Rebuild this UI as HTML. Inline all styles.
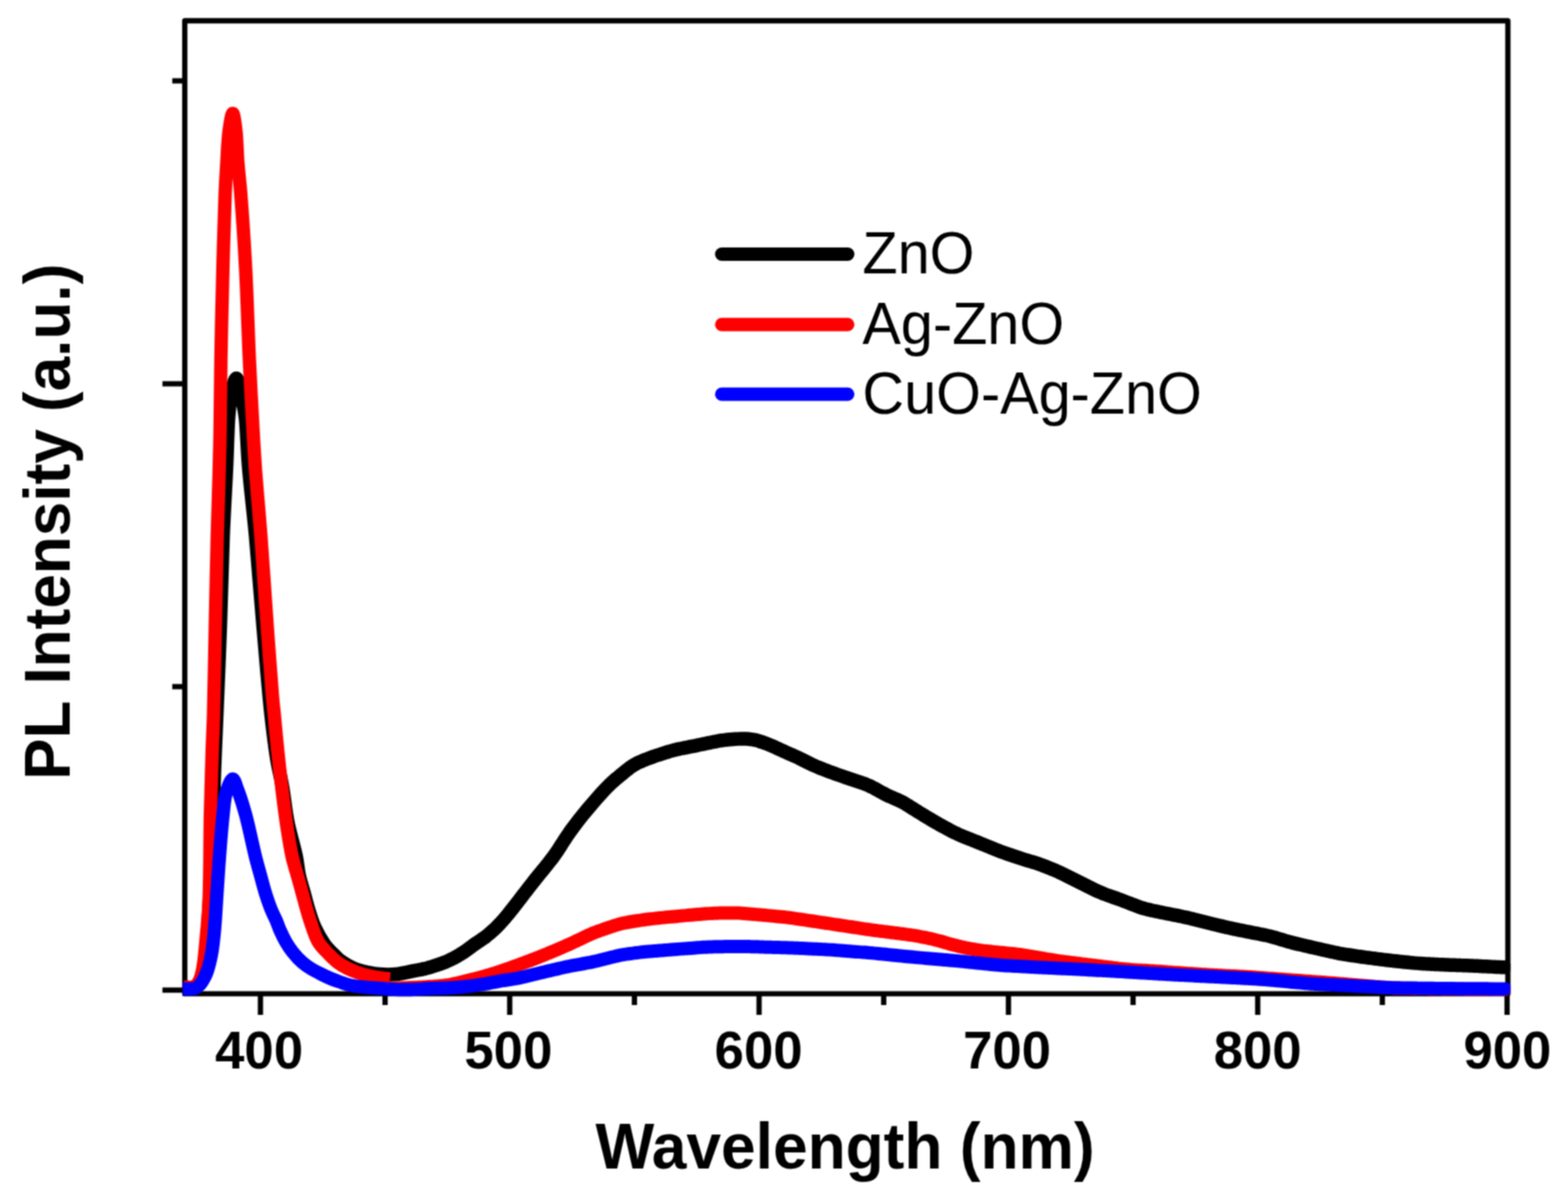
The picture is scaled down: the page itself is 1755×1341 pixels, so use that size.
<!DOCTYPE html>
<html><head><meta charset="utf-8"><title>PL spectra</title>
<style>
html,body{margin:0;padding:0;background:#fff;}
body{width:1755px;height:1341px;overflow:hidden;position:relative;}
svg{position:absolute;left:0;top:0;display:block;}
text{font-family:"Liberation Sans",Arial,sans-serif;fill:#000;}
</style></head>
<body>
<svg width="1755" height="1341" viewBox="0 0 1755 1341">
<defs><clipPath id="pa"><rect x="204.5" y="20" width="1486" height="1096"/></clipPath>
<filter id="soft" x="0" y="0" width="1755" height="1341" filterUnits="userSpaceOnUse" color-interpolation-filters="sRGB"><feConvolveMatrix order="3" kernelMatrix="1 2 1 2 4 2 1 2 1" divisor="16" edgeMode="duplicate"/></filter></defs>
<rect x="0" y="0" width="1755" height="1341" fill="#fff"/>
<g filter="url(#soft)">
<rect x="0" y="0" width="1755" height="1341" fill="#fff"/>
<g stroke="#000" stroke-width="5.9" fill="none" stroke-linecap="butt">
<rect x="206.8" y="23.2" width="1480.9" height="1089.2" stroke-linejoin="round"/>
<line x1="291.5" y1="1112.4" x2="291.5" y2="1136"/><line x1="570.5" y1="1112.4" x2="570.5" y2="1136"/><line x1="849.6" y1="1112.4" x2="849.6" y2="1136"/><line x1="1128.7" y1="1112.4" x2="1128.7" y2="1136"/><line x1="1407.7" y1="1112.4" x2="1407.7" y2="1136"/><line x1="1686.8" y1="1112.4" x2="1686.8" y2="1136"/>
<line x1="431.0" y1="1112.4" x2="431.0" y2="1125"/><line x1="710.1" y1="1112.4" x2="710.1" y2="1125"/><line x1="989.1" y1="1112.4" x2="989.1" y2="1125"/><line x1="1268.2" y1="1112.4" x2="1268.2" y2="1125"/><line x1="1547.2" y1="1112.4" x2="1547.2" y2="1125"/>
<line x1="206.8" y1="1108.3" x2="181.8" y2="1108.3"/><line x1="206.8" y1="768.6" x2="192.8" y2="768.6"/><line x1="206.8" y1="429.6" x2="181.8" y2="429.6"/><line x1="206.8" y1="90.5" x2="192.8" y2="90.5"/>
</g>
<g fill="none" stroke-linejoin="round" stroke-linecap="round" stroke-width="15" clip-path="url(#pa)">
<path stroke="#000" stroke-width="15.5" d="M206.00,1107.00 C209.33,1106.83 213.21,1107.51 216.00,1106.50 C218.41,1105.63 220.32,1104.16 222.00,1102.00 C224.22,1099.15 225.65,1095.01 227.00,1090.00 C229.06,1082.35 229.83,1071.74 231.00,1060.00 C232.65,1043.45 233.88,1021.44 235.00,1000.00 C236.29,975.26 237.12,944.75 238.00,920.00 C238.76,898.56 239.25,880.00 240.00,860.00 C240.75,840.00 241.58,822.54 242.50,800.00 C243.69,770.90 245.32,733.34 246.50,700.00 C247.68,666.67 248.34,631.32 249.60,600.00 C250.72,572.22 252.43,545.13 253.50,521.40 C254.39,501.77 254.77,480.64 255.70,467.60 C256.23,460.13 256.73,455.52 257.50,450.00 C258.19,445.05 258.80,440.49 260.00,436.00 C261.16,431.66 263.00,423.50 264.50,423.50 C266.00,423.50 267.79,431.67 269.00,436.00 C270.25,440.49 270.89,445.06 271.80,450.00 C272.82,455.52 273.92,460.11 274.80,467.60 C276.33,480.62 276.68,501.79 278.30,521.40 C280.26,545.14 283.65,572.21 286.20,600.00 C289.07,631.32 291.62,666.67 294.50,700.00 C297.38,733.34 300.47,772.41 303.50,800.00 C305.65,819.55 307.61,835.49 310.00,850.00 C311.86,861.31 314.12,869.26 316.00,880.00 C318.16,892.35 319.41,906.81 322.00,920.00 C324.58,933.14 329.29,947.96 331.50,959.00 C333.11,967.04 333.32,973.18 334.80,980.00 C336.24,986.64 338.42,992.93 340.20,999.40 C341.98,1005.86 343.49,1012.38 345.50,1018.80 C347.52,1025.28 349.41,1031.79 352.30,1038.10 C355.32,1044.70 359.65,1052.33 363.40,1057.50 C366.24,1061.41 369.04,1063.98 372.00,1067.00 C374.91,1069.97 377.87,1073.11 381.00,1075.50 C383.89,1077.71 386.87,1079.35 390.00,1081.00 C393.19,1082.69 396.46,1084.27 400.00,1085.50 C403.76,1086.81 407.90,1087.67 412.00,1088.50 C416.23,1089.35 420.30,1090.14 425.00,1090.50 C430.50,1090.92 436.66,1091.10 443.00,1090.50 C450.25,1089.82 462.02,1086.81 466.10,1086.13 C467.57,1085.88 468.10,1085.85 469.10,1085.68 C470.10,1085.51 471.10,1085.31 472.10,1085.10 C473.10,1084.88 474.10,1084.65 475.10,1084.41 C476.10,1084.16 477.10,1083.90 478.10,1083.63 C479.10,1083.37 480.10,1083.09 481.10,1082.80 C482.10,1082.51 483.10,1082.21 484.10,1081.90 C485.10,1081.60 486.10,1081.28 487.10,1080.96 C488.10,1080.63 489.10,1080.30 490.10,1079.96 C491.10,1079.61 492.10,1079.26 493.10,1078.90 C494.10,1078.53 495.10,1078.16 496.10,1077.77 C497.10,1077.38 498.10,1076.97 499.10,1076.55 C500.10,1076.13 501.10,1075.69 502.10,1075.24 C503.10,1074.78 504.10,1074.31 505.10,1073.82 C506.10,1073.33 507.10,1072.82 508.10,1072.30 C509.10,1071.77 510.10,1071.23 511.10,1070.68 C512.10,1070.11 513.10,1069.54 514.10,1068.94 C515.10,1068.33 516.11,1067.71 517.10,1067.07 C518.11,1066.42 519.10,1065.74 520.10,1065.05 C521.10,1064.36 522.10,1063.64 523.10,1062.92 C524.10,1062.19 525.10,1061.45 526.10,1060.73 C527.10,1060.00 528.10,1059.26 529.10,1058.55 C530.10,1057.83 531.10,1057.13 532.10,1056.43 C533.10,1055.74 534.10,1055.06 535.10,1054.38 C536.10,1053.70 537.10,1053.04 538.10,1052.35 C539.10,1051.66 540.11,1050.98 541.10,1050.26 C542.11,1049.54 543.11,1048.81 544.10,1048.04 C545.11,1047.27 546.11,1046.47 547.10,1045.65 C548.11,1044.81 549.11,1043.95 550.10,1043.06 C551.11,1042.17 552.11,1041.25 553.10,1040.31 C554.11,1039.36 555.11,1038.39 556.10,1037.40 C557.11,1036.40 558.11,1035.38 559.10,1034.33 C560.11,1033.28 561.11,1032.19 562.10,1031.09 C563.11,1029.98 564.11,1028.84 565.10,1027.68 C566.11,1026.51 567.11,1025.32 568.10,1024.11 C569.11,1022.90 570.10,1021.66 571.10,1020.42 C572.10,1019.17 573.10,1017.90 574.10,1016.63 C575.10,1015.36 576.10,1014.07 577.10,1012.78 C578.10,1011.49 579.10,1010.19 580.10,1008.89 C581.10,1007.59 582.10,1006.29 583.10,1004.99 C584.10,1003.69 585.10,1002.39 586.10,1001.08 C587.10,999.78 588.10,998.48 589.10,997.18 C590.10,995.89 591.10,994.59 592.10,993.30 C593.10,992.01 594.10,990.72 595.10,989.44 C596.10,988.16 597.10,986.89 598.10,985.62 C599.10,984.36 600.10,983.11 601.10,981.86 C602.10,980.62 603.10,979.38 604.10,978.15 C605.10,976.93 606.10,975.71 607.10,974.49 C608.10,973.26 609.10,972.05 610.10,970.83 C611.10,969.60 612.10,968.38 613.10,967.13 C614.10,965.88 615.11,964.62 616.10,963.33 C617.11,962.02 618.11,960.70 619.10,959.34 C620.11,957.96 621.11,956.55 622.10,955.11 C623.11,953.65 624.11,952.15 625.10,950.64 C626.11,949.12 627.10,947.56 628.10,946.01 C629.10,944.46 630.10,942.89 631.10,941.34 C632.10,939.81 633.09,938.28 634.10,936.77 C635.09,935.29 636.09,933.82 637.10,932.37 C638.09,930.95 639.09,929.55 640.10,928.16 C641.09,926.79 642.10,925.44 643.10,924.10 C644.10,922.77 645.10,921.46 646.10,920.15 C647.10,918.85 648.10,917.57 649.10,916.29 C650.10,915.03 651.10,913.77 652.10,912.52 C653.10,911.28 654.10,910.06 655.10,908.84 C656.10,907.63 657.10,906.43 658.10,905.23 C659.10,904.04 660.10,902.86 661.10,901.68 C662.10,900.51 663.10,899.34 664.10,898.17 C665.10,897.01 666.10,895.86 667.10,894.71 C668.10,893.57 669.10,892.44 670.10,891.31 C671.10,890.20 672.10,889.09 673.10,887.99 C674.10,886.90 675.10,885.82 676.10,884.75 C677.10,883.69 678.09,882.64 679.10,881.61 C680.09,880.60 681.09,879.59 682.10,878.61 C683.09,877.64 684.09,876.69 685.10,875.77 C686.09,874.85 687.09,873.97 688.10,873.09 C689.09,872.23 690.10,871.40 691.10,870.56 C692.10,869.73 693.10,868.92 694.10,868.10 C695.10,867.28 696.10,866.47 697.10,865.65 C698.10,864.83 699.10,864.00 700.10,863.19 C701.10,862.38 702.09,861.56 703.10,860.78 C704.09,860.01 705.09,859.25 706.10,858.53 C707.09,857.83 708.09,857.16 709.10,856.54 C710.09,855.93 711.09,855.36 712.10,854.82 C713.09,854.29 714.10,853.81 715.10,853.34 C716.10,852.87 717.10,852.44 718.10,852.01 C719.10,851.58 720.10,851.17 721.10,850.77 C722.10,850.37 723.10,849.98 724.10,849.59 C725.10,849.21 726.10,848.83 727.10,848.46 C728.10,848.09 729.10,847.73 730.10,847.37 C731.10,847.01 732.10,846.65 733.10,846.30 C734.10,845.95 735.10,845.61 736.10,845.27 C737.10,844.93 738.10,844.59 739.10,844.27 C740.10,843.94 741.10,843.62 742.10,843.30 C743.10,842.99 744.10,842.68 745.10,842.38 C746.10,842.07 747.10,841.78 748.10,841.49 C749.10,841.20 750.10,840.91 751.10,840.64 C752.10,840.36 753.10,840.09 754.10,839.82 C755.10,839.56 756.10,839.31 757.10,839.06 C758.10,838.82 759.10,838.59 760.10,838.37 C761.10,838.14 762.10,837.93 763.10,837.73 C764.10,837.52 765.10,837.33 766.10,837.13 C767.10,836.94 768.10,836.75 769.10,836.56 C770.10,836.37 771.10,836.18 772.10,835.98 C773.10,835.79 774.10,835.60 775.10,835.40 C776.10,835.20 777.10,835.00 778.10,834.80 C779.10,834.60 780.10,834.39 781.10,834.18 C782.10,833.98 783.10,833.77 784.10,833.55 C785.10,833.34 786.10,833.13 787.10,832.92 C788.10,832.70 789.10,832.49 790.10,832.27 C791.10,832.06 792.10,831.84 793.10,831.63 C794.10,831.42 795.10,831.20 796.10,830.99 C797.10,830.78 798.10,830.57 799.10,830.37 C800.10,830.16 801.10,829.96 802.10,829.77 C803.10,829.59 804.10,829.41 805.10,829.24 C806.10,829.07 807.10,828.92 808.10,828.78 C809.10,828.64 810.10,828.51 811.10,828.40 C812.10,828.28 813.10,828.18 814.10,828.08 C815.10,827.98 816.10,827.89 817.10,827.80 C818.10,827.71 819.10,827.63 820.10,827.55 C821.10,827.47 822.10,827.39 823.10,827.32 C824.10,827.25 825.10,827.18 826.10,827.12 C827.10,827.06 828.10,827.00 829.10,826.97 C830.10,826.93 831.10,826.90 832.10,826.90 C833.10,826.90 834.10,826.92 835.10,826.97 C836.10,827.02 837.10,827.09 838.10,827.20 C839.10,827.30 840.10,827.44 841.10,827.59 C842.10,827.75 843.10,827.94 844.10,828.15 C845.10,828.36 846.10,828.60 847.10,828.86 C848.10,829.12 849.10,829.41 850.10,829.71 C851.10,830.01 852.10,830.34 853.10,830.68 C854.10,831.02 855.10,831.39 856.10,831.76 C857.10,832.13 858.10,832.52 859.10,832.92 C860.10,833.32 861.10,833.74 862.10,834.16 C863.10,834.58 864.10,835.02 865.10,835.46 C866.10,835.89 867.10,836.34 868.10,836.79 C869.10,837.24 870.10,837.70 871.10,838.16 C872.10,838.61 873.10,839.07 874.10,839.53 C875.10,839.99 876.10,840.44 877.10,840.89 C878.10,841.34 879.10,841.79 880.10,842.23 C881.10,842.67 882.10,843.11 883.10,843.55 C884.10,843.98 885.10,844.41 886.10,844.85 C887.10,845.29 888.10,845.73 889.10,846.19 C890.10,846.64 891.10,847.10 892.10,847.57 C893.10,848.05 894.10,848.53 895.10,849.02 C896.10,849.51 897.10,850.01 898.10,850.52 C899.10,851.02 900.10,851.53 901.10,852.03 C902.10,852.53 903.10,853.04 904.10,853.54 C905.10,854.03 906.10,854.52 907.10,855.00 C908.10,855.48 909.10,855.95 910.10,856.41 C911.10,856.86 912.10,857.30 913.10,857.73 C914.10,858.16 915.10,858.57 916.10,858.98 C917.10,859.39 918.10,859.79 919.10,860.19 C920.10,860.58 921.10,860.97 922.10,861.36 C923.10,861.74 924.10,862.13 925.10,862.51 C926.10,862.89 927.10,863.27 928.10,863.64 C929.10,864.02 930.10,864.39 931.10,864.76 C932.10,865.12 933.10,865.49 934.10,865.85 C935.10,866.21 936.10,866.57 937.10,866.93 C938.10,867.28 939.10,867.64 940.10,867.99 C941.10,868.34 942.10,868.69 943.10,869.04 C944.10,869.39 945.10,869.74 946.10,870.08 C947.10,870.43 948.10,870.77 949.10,871.11 C950.10,871.45 951.10,871.79 952.10,872.12 C953.10,872.45 954.10,872.78 955.10,873.11 C956.10,873.44 957.10,873.76 958.10,874.08 C959.10,874.41 960.10,874.73 961.10,875.06 C962.10,875.39 963.10,875.72 964.10,876.06 C965.10,876.41 966.10,876.76 967.10,877.13 C968.10,877.51 969.10,877.90 970.10,878.31 C971.10,878.73 972.10,879.17 973.10,879.63 C974.10,880.10 975.10,880.59 976.10,881.10 C977.10,881.61 978.10,882.15 979.10,882.69 C980.10,883.23 981.10,883.79 982.10,884.35 C983.10,884.90 984.10,885.47 985.10,886.02 C986.10,886.57 987.10,887.12 988.10,887.65 C989.10,888.18 990.10,888.71 991.10,889.21 C992.10,889.71 993.10,890.19 994.10,890.66 C995.10,891.13 996.10,891.58 997.10,892.02 C998.10,892.46 999.10,892.88 1000.10,893.31 C1001.10,893.74 1002.10,894.15 1003.10,894.59 C1004.10,895.03 1005.10,895.47 1006.10,895.94 C1007.10,896.41 1008.11,896.90 1009.10,897.41 C1010.11,897.93 1011.11,898.48 1012.10,899.04 C1013.11,899.62 1014.10,900.22 1015.10,900.82 C1016.10,901.44 1017.10,902.07 1018.10,902.70 C1019.10,903.34 1020.10,903.98 1021.10,904.62 C1022.10,905.26 1023.10,905.90 1024.10,906.53 C1025.10,907.16 1026.10,907.79 1027.10,908.41 C1028.10,909.03 1029.10,909.65 1030.10,910.26 C1031.10,910.88 1032.10,911.48 1033.10,912.09 C1034.10,912.70 1035.10,913.30 1036.10,913.91 C1037.10,914.51 1038.10,915.11 1039.10,915.71 C1040.10,916.31 1041.10,916.91 1042.10,917.50 C1043.10,918.09 1044.10,918.68 1045.10,919.26 C1046.10,919.84 1047.10,920.42 1048.10,920.99 C1049.10,921.56 1050.10,922.12 1051.10,922.69 C1052.10,923.25 1053.10,923.80 1054.10,924.35 C1055.10,924.91 1056.10,925.46 1057.10,926.00 C1058.10,926.55 1059.10,927.09 1060.10,927.64 C1061.10,928.18 1062.10,928.71 1063.10,929.25 C1064.10,929.77 1065.10,930.30 1066.10,930.82 C1067.10,931.33 1068.10,931.83 1069.10,932.32 C1070.10,932.80 1071.10,933.28 1072.10,933.74 C1073.10,934.19 1074.10,934.64 1075.10,935.07 C1076.10,935.50 1077.10,935.91 1078.10,936.33 C1079.10,936.74 1080.10,937.14 1081.10,937.54 C1082.10,937.94 1083.10,938.33 1084.10,938.73 C1085.10,939.12 1086.10,939.52 1087.10,939.91 C1088.10,940.31 1089.10,940.70 1090.10,941.10 C1091.10,941.49 1092.10,941.89 1093.10,942.29 C1094.10,942.69 1095.10,943.09 1096.10,943.50 C1097.10,943.90 1098.10,944.31 1099.10,944.71 C1100.10,945.12 1101.10,945.53 1102.10,945.94 C1103.10,946.35 1104.10,946.77 1105.10,947.18 C1106.10,947.59 1107.10,948.00 1108.10,948.41 C1109.10,948.82 1110.10,949.23 1111.10,949.64 C1112.10,950.04 1113.10,950.45 1114.10,950.84 C1115.10,951.24 1116.10,951.63 1117.10,952.02 C1118.10,952.41 1119.10,952.79 1120.10,953.16 C1121.10,953.53 1122.10,953.90 1123.10,954.26 C1124.10,954.62 1125.10,954.97 1126.10,955.33 C1127.10,955.68 1128.10,956.03 1129.10,956.37 C1130.10,956.72 1131.10,957.07 1132.10,957.41 C1133.10,957.75 1134.10,958.09 1135.10,958.43 C1136.10,958.77 1137.10,959.11 1138.10,959.44 C1139.10,959.77 1140.10,960.10 1141.10,960.43 C1142.10,960.75 1143.10,961.07 1144.10,961.38 C1145.10,961.69 1146.10,962.00 1147.10,962.31 C1148.10,962.61 1149.10,962.91 1150.10,963.21 C1151.10,963.51 1152.10,963.81 1153.10,964.11 C1154.10,964.41 1155.10,964.71 1156.10,965.02 C1157.10,965.33 1158.10,965.64 1159.10,965.96 C1160.10,966.28 1161.10,966.61 1162.10,966.95 C1163.10,967.29 1164.10,967.65 1165.10,968.01 C1166.10,968.37 1167.10,968.74 1168.10,969.12 C1169.10,969.50 1170.10,969.89 1171.10,970.29 C1172.10,970.68 1173.10,971.08 1174.10,971.48 C1175.10,971.89 1176.10,972.29 1177.10,972.71 C1178.10,973.12 1179.10,973.54 1180.10,973.97 C1181.10,974.40 1182.10,974.83 1183.10,975.28 C1184.10,975.72 1185.10,976.18 1186.10,976.64 C1187.10,977.11 1188.10,977.58 1189.10,978.06 C1190.10,978.54 1191.10,979.03 1192.10,979.52 C1193.10,980.01 1194.10,980.51 1195.10,981.01 C1196.10,981.50 1197.10,982.00 1198.10,982.50 C1199.10,983.00 1200.10,983.50 1201.10,984.00 C1202.10,984.50 1203.10,985.00 1204.10,985.50 C1205.10,986.00 1206.10,986.50 1207.10,987.00 C1208.10,987.51 1209.10,988.01 1210.10,988.51 C1211.10,989.01 1212.10,989.51 1213.10,990.01 C1214.10,990.51 1215.10,991.02 1216.10,991.52 C1217.10,992.02 1218.10,992.52 1219.10,993.02 C1220.10,993.52 1221.10,994.02 1222.10,994.51 C1223.10,995.00 1224.10,995.49 1225.10,995.97 C1226.10,996.45 1227.10,996.93 1228.10,997.38 C1229.10,997.84 1230.10,998.29 1231.10,998.72 C1232.10,999.15 1233.10,999.56 1234.10,999.97 C1235.10,1000.37 1236.10,1000.75 1237.10,1001.13 C1238.10,1001.51 1239.10,1001.87 1240.10,1002.23 C1241.10,1002.59 1242.10,1002.95 1243.10,1003.30 C1244.10,1003.66 1245.10,1004.01 1246.10,1004.36 C1247.10,1004.71 1248.10,1005.07 1249.10,1005.42 C1250.10,1005.78 1251.10,1006.14 1252.10,1006.50 C1253.10,1006.86 1254.10,1007.22 1255.10,1007.59 C1256.10,1007.96 1257.10,1008.34 1258.10,1008.72 C1259.10,1009.10 1260.10,1009.48 1261.10,1009.87 C1262.10,1010.25 1263.10,1010.64 1264.10,1011.03 C1265.10,1011.42 1266.10,1011.81 1267.10,1012.20 C1268.10,1012.58 1269.10,1012.97 1270.10,1013.35 C1271.10,1013.73 1272.10,1014.11 1273.10,1014.48 C1274.10,1014.84 1275.10,1015.20 1276.10,1015.54 C1277.10,1015.88 1278.10,1016.20 1279.10,1016.51 C1280.10,1016.81 1281.10,1017.10 1282.10,1017.37 C1283.10,1017.64 1284.10,1017.89 1285.10,1018.13 C1286.10,1018.37 1287.10,1018.60 1288.10,1018.82 C1289.10,1019.05 1290.10,1019.26 1291.10,1019.48 C1292.10,1019.70 1293.10,1019.91 1294.10,1020.12 C1295.10,1020.33 1296.10,1020.54 1297.10,1020.75 C1298.10,1020.96 1299.10,1021.16 1300.10,1021.37 C1301.10,1021.58 1302.10,1021.78 1303.10,1021.98 C1304.10,1022.19 1305.10,1022.39 1306.10,1022.59 C1307.10,1022.79 1308.10,1022.99 1309.10,1023.19 C1310.10,1023.39 1311.10,1023.58 1312.10,1023.78 C1313.10,1023.98 1314.10,1024.17 1315.10,1024.37 C1316.10,1024.57 1317.10,1024.77 1318.10,1024.97 C1319.10,1025.17 1320.10,1025.37 1321.10,1025.57 C1322.10,1025.78 1323.10,1025.98 1324.10,1026.20 C1325.10,1026.41 1326.10,1026.63 1327.10,1026.85 C1328.10,1027.07 1329.10,1027.30 1330.10,1027.54 C1331.10,1027.77 1332.10,1028.01 1333.10,1028.25 C1334.10,1028.49 1335.10,1028.74 1336.10,1028.98 C1337.10,1029.23 1338.10,1029.48 1339.10,1029.73 C1340.10,1029.98 1341.10,1030.23 1342.10,1030.47 C1343.10,1030.72 1344.10,1030.97 1345.10,1031.22 C1346.10,1031.47 1347.10,1031.72 1348.10,1031.97 C1349.10,1032.22 1350.10,1032.47 1351.10,1032.71 C1352.10,1032.96 1353.10,1033.21 1354.10,1033.46 C1355.10,1033.70 1356.10,1033.95 1357.10,1034.20 C1358.10,1034.44 1359.10,1034.69 1360.10,1034.94 C1361.10,1035.18 1362.10,1035.43 1363.10,1035.67 C1364.10,1035.92 1365.10,1036.16 1366.10,1036.40 C1367.10,1036.65 1368.10,1036.89 1369.10,1037.13 C1370.10,1037.37 1371.10,1037.60 1372.10,1037.84 C1373.10,1038.07 1374.10,1038.30 1375.10,1038.52 C1376.10,1038.74 1377.10,1038.96 1378.10,1039.18 C1379.10,1039.40 1380.10,1039.61 1381.10,1039.82 C1382.10,1040.02 1383.10,1040.23 1384.10,1040.44 C1385.10,1040.64 1386.10,1040.84 1387.10,1041.05 C1388.10,1041.25 1389.10,1041.45 1390.10,1041.66 C1391.10,1041.86 1392.10,1042.06 1393.10,1042.26 C1394.10,1042.46 1395.10,1042.66 1396.10,1042.86 C1397.10,1043.06 1398.10,1043.26 1399.10,1043.46 C1400.10,1043.65 1401.10,1043.85 1402.10,1044.05 C1403.10,1044.24 1404.10,1044.44 1405.10,1044.63 C1406.10,1044.83 1407.10,1045.02 1408.10,1045.22 C1409.10,1045.41 1410.10,1045.61 1411.10,1045.80 C1412.10,1046.00 1413.10,1046.20 1414.10,1046.40 C1415.10,1046.61 1416.10,1046.81 1417.10,1047.03 C1418.10,1047.25 1419.10,1047.47 1420.10,1047.71 C1421.10,1047.94 1422.10,1048.19 1423.10,1048.45 C1424.10,1048.71 1425.10,1048.98 1426.10,1049.27 C1427.10,1049.55 1428.10,1049.84 1429.10,1050.14 C1430.10,1050.44 1431.10,1050.75 1432.10,1051.05 C1433.10,1051.36 1434.10,1051.67 1435.10,1051.98 C1436.10,1052.28 1437.10,1052.59 1438.10,1052.89 C1439.10,1053.19 1440.10,1053.48 1441.10,1053.76 C1442.10,1054.05 1443.10,1054.33 1444.10,1054.60 C1445.10,1054.87 1446.10,1055.13 1447.10,1055.38 C1448.10,1055.64 1449.10,1055.88 1450.10,1056.13 C1451.10,1056.37 1452.10,1056.61 1453.10,1056.84 C1454.10,1057.08 1455.10,1057.32 1456.10,1057.55 C1457.10,1057.79 1458.10,1058.02 1459.10,1058.25 C1460.10,1058.48 1461.10,1058.72 1462.10,1058.95 C1463.10,1059.18 1464.10,1059.42 1465.10,1059.65 C1466.10,1059.88 1467.10,1060.11 1468.10,1060.34 C1469.10,1060.57 1470.10,1060.80 1471.10,1061.03 C1472.10,1061.26 1473.10,1061.49 1474.10,1061.72 C1475.10,1061.95 1476.10,1062.18 1477.10,1062.41 C1478.10,1062.64 1479.10,1062.86 1480.10,1063.09 C1481.10,1063.32 1482.10,1063.55 1483.10,1063.78 C1484.10,1064.00 1485.10,1064.23 1486.10,1064.46 C1487.10,1064.68 1488.10,1064.91 1489.10,1065.13 C1490.10,1065.36 1491.10,1065.58 1492.10,1065.80 C1493.10,1066.01 1494.10,1066.23 1495.10,1066.43 C1496.10,1066.64 1497.10,1066.84 1498.10,1067.03 C1499.10,1067.23 1500.10,1067.41 1501.10,1067.59 C1502.10,1067.76 1503.10,1067.93 1504.10,1068.09 C1505.10,1068.26 1506.10,1068.41 1507.10,1068.57 C1508.10,1068.72 1509.10,1068.87 1510.10,1069.02 C1511.10,1069.17 1512.10,1069.32 1513.10,1069.47 C1514.10,1069.61 1515.10,1069.76 1516.10,1069.91 C1517.10,1070.05 1518.10,1070.20 1519.10,1070.35 C1520.10,1070.49 1521.10,1070.64 1522.10,1070.78 C1523.10,1070.92 1524.10,1071.07 1525.10,1071.21 C1526.10,1071.35 1527.10,1071.49 1528.10,1071.63 C1529.10,1071.76 1530.10,1071.90 1531.10,1072.03 C1532.10,1072.16 1533.10,1072.30 1534.10,1072.43 C1535.10,1072.56 1536.10,1072.68 1537.10,1072.81 C1538.10,1072.94 1539.10,1073.06 1540.10,1073.19 C1541.10,1073.32 1542.10,1073.44 1543.10,1073.57 C1544.10,1073.69 1545.10,1073.82 1546.10,1073.94 C1547.10,1074.07 1548.10,1074.19 1549.10,1074.32 C1550.10,1074.44 1551.10,1074.57 1552.10,1074.69 C1553.10,1074.81 1554.10,1074.93 1555.10,1075.05 C1556.10,1075.17 1557.10,1075.28 1558.10,1075.40 C1559.10,1075.51 1560.10,1075.62 1561.10,1075.73 C1562.10,1075.84 1563.10,1075.95 1564.10,1076.06 C1565.10,1076.16 1566.10,1076.27 1567.10,1076.37 C1568.10,1076.47 1569.10,1076.58 1570.10,1076.68 C1571.10,1076.78 1572.10,1076.88 1573.10,1076.98 C1574.10,1077.09 1575.10,1077.19 1576.10,1077.29 C1577.10,1077.39 1578.10,1077.49 1579.10,1077.59 C1580.10,1077.68 1581.10,1077.78 1582.10,1077.87 C1583.10,1077.97 1584.10,1078.06 1585.10,1078.14 C1586.10,1078.23 1587.10,1078.31 1588.10,1078.39 C1589.10,1078.46 1590.10,1078.53 1591.10,1078.60 C1592.10,1078.66 1593.10,1078.72 1594.10,1078.78 C1595.10,1078.84 1596.10,1078.89 1597.10,1078.95 C1598.10,1079.00 1599.10,1079.05 1600.10,1079.10 C1601.10,1079.15 1602.10,1079.20 1603.10,1079.25 C1604.10,1079.30 1605.10,1079.35 1606.10,1079.40 C1607.10,1079.45 1608.10,1079.50 1609.10,1079.55 C1610.10,1079.60 1611.10,1079.65 1612.10,1079.70 C1613.10,1079.74 1614.10,1079.79 1615.10,1079.84 C1616.10,1079.88 1617.10,1079.92 1618.10,1079.97 C1619.10,1080.01 1620.10,1080.05 1621.10,1080.09 C1622.10,1080.13 1623.10,1080.16 1624.10,1080.20 C1625.10,1080.24 1626.10,1080.27 1627.10,1080.31 C1628.10,1080.34 1629.10,1080.38 1630.10,1080.41 C1631.10,1080.45 1632.10,1080.48 1633.10,1080.51 C1634.10,1080.55 1635.10,1080.58 1636.10,1080.62 C1637.10,1080.65 1638.10,1080.69 1639.10,1080.72 C1640.10,1080.76 1641.10,1080.79 1642.10,1080.83 C1643.10,1080.87 1644.10,1080.91 1645.10,1080.95 C1646.10,1080.99 1647.10,1081.03 1648.10,1081.07 C1649.10,1081.12 1650.10,1081.16 1651.10,1081.21 C1652.10,1081.26 1653.10,1081.30 1654.10,1081.35 C1655.10,1081.40 1656.10,1081.45 1657.10,1081.50 C1658.10,1081.56 1659.10,1081.61 1660.10,1081.66 C1661.10,1081.71 1662.10,1081.76 1663.10,1081.81 C1664.10,1081.87 1665.10,1081.92 1666.10,1081.97 C1667.10,1082.02 1668.10,1082.07 1669.10,1082.12 C1670.10,1082.18 1671.10,1082.23 1672.10,1082.28 C1673.10,1082.33 1674.10,1082.38 1675.10,1082.43 C1676.10,1082.48 1677.10,1082.52 1678.10,1082.57 C1679.10,1082.61 1680.10,1082.65 1681.10,1082.69 C1682.10,1082.72 1683.10,1082.75 1684.10,1082.78"/>
<path stroke="#f00" stroke-linecap="butt" d="M206.00,1105.00 C209.67,1104.83 214.19,1105.65 217.00,1104.50 C219.19,1103.60 220.59,1102.13 222.00,1100.00 C224.02,1096.95 225.23,1092.58 226.50,1087.00 C228.65,1077.57 229.75,1061.01 231.00,1048.00 C232.25,1035.01 233.26,1024.96 234.00,1009.00 C235.16,983.74 234.85,941.04 235.50,911.00 C236.06,885.43 236.83,860.29 237.50,840.00 C238.00,824.77 238.53,816.34 239.00,800.00 C239.74,774.17 240.30,733.33 241.00,700.00 C241.70,666.67 242.37,633.33 243.20,600.00 C244.03,566.67 245.32,533.34 246.00,500.00 C246.68,466.67 246.72,433.33 247.30,400.00 C247.88,366.67 248.67,331.78 249.50,300.00 C250.25,271.04 251.08,238.86 252.00,217.00 C252.60,202.72 253.15,193.43 253.90,181.60 C254.65,169.70 255.08,155.79 256.50,145.80 C257.54,138.49 259.25,126.98 260.50,127.00 C261.75,127.02 263.10,138.50 264.00,145.80 C265.23,155.80 265.28,169.71 266.20,181.60 C267.12,193.44 268.37,202.71 269.50,217.00 C271.23,238.85 273.36,271.04 274.90,300.00 C276.58,331.77 277.67,371.04 279.00,400.00 C280.02,422.25 280.92,439.09 282.00,459.00 C283.11,479.41 284.08,499.09 285.60,521.00 C287.32,545.75 289.89,572.11 292.00,600.00 C294.37,631.37 296.72,668.53 299.00,700.00 C301.04,728.16 303.45,762.23 305.00,780.00 C305.78,788.90 306.30,792.71 307.00,800.00 C307.85,808.77 308.60,818.08 309.70,829.00 C311.13,843.21 313.04,861.62 315.00,878.00 C316.97,894.52 319.26,913.06 321.50,927.70 C323.29,939.36 324.89,949.65 327.00,959.00 C328.75,966.74 330.90,973.14 332.80,980.00 C334.63,986.60 336.42,992.93 338.20,999.40 C339.98,1005.86 341.89,1013.23 343.50,1018.80 C344.73,1023.05 345.40,1025.60 346.90,1030.00 C349.12,1036.51 352.28,1047.51 356.00,1053.90 C358.91,1058.90 362.42,1062.17 366.00,1066.00 C369.61,1069.87 373.66,1073.98 377.60,1077.00 C381.08,1079.67 384.50,1081.59 388.20,1083.50 C391.96,1085.44 396.01,1087.08 400.00,1088.50 C403.94,1089.90 407.92,1091.01 412.00,1092.00 C416.15,1093.01 420.53,1093.83 424.70,1094.50 C428.69,1095.15 432.57,1095.50 436.50,1096.00"/>
<path stroke="#f00" d="M436.50,1106.00 C437.50,1106.00 438.50,1106.00 439.50,1105.99 C440.50,1105.99 441.50,1105.99 442.50,1105.98 C443.50,1105.98 444.50,1105.97 445.50,1105.96 C446.50,1105.95 447.50,1105.93 448.50,1105.91 C449.50,1105.89 450.50,1105.87 451.50,1105.84 C452.50,1105.81 453.50,1105.77 454.50,1105.73 C455.50,1105.70 456.50,1105.65 457.50,1105.61 C458.50,1105.57 459.50,1105.52 460.50,1105.47 C461.50,1105.42 462.50,1105.37 463.50,1105.32 C464.50,1105.27 465.50,1105.22 466.50,1105.17 C467.50,1105.12 468.50,1105.07 469.50,1105.02 C470.50,1104.97 471.50,1104.92 472.50,1104.87 C473.50,1104.81 474.50,1104.76 475.50,1104.70 C476.50,1104.64 477.50,1104.59 478.50,1104.52 C479.50,1104.46 480.50,1104.40 481.50,1104.33 C482.50,1104.26 483.50,1104.19 484.50,1104.12 C485.50,1104.05 486.50,1103.97 487.50,1103.90 C488.50,1103.82 489.50,1103.74 490.50,1103.66 C491.50,1103.58 492.50,1103.50 493.50,1103.41 C494.50,1103.32 495.50,1103.23 496.50,1103.12 C497.50,1103.02 498.50,1102.91 499.50,1102.78 C500.50,1102.65 501.50,1102.50 502.50,1102.34 C503.50,1102.18 504.50,1102.00 505.50,1101.81 C506.50,1101.62 507.50,1101.40 508.50,1101.18 C509.50,1100.96 510.50,1100.73 511.50,1100.49 C512.50,1100.26 513.50,1100.01 514.50,1099.77 C515.50,1099.52 516.50,1099.27 517.50,1099.02 C518.50,1098.78 519.50,1098.53 520.50,1098.28 C521.50,1098.03 522.50,1097.78 523.50,1097.54 C524.50,1097.29 525.50,1097.04 526.50,1096.79 C527.50,1096.55 528.50,1096.30 529.50,1096.05 C530.50,1095.80 531.50,1095.56 532.50,1095.31 C533.50,1095.05 534.50,1094.80 535.50,1094.54 C536.50,1094.29 537.50,1094.03 538.50,1093.76 C539.50,1093.49 540.50,1093.21 541.50,1092.93 C542.50,1092.65 543.50,1092.37 544.50,1092.08 C545.50,1091.79 546.50,1091.49 547.50,1091.19 C548.50,1090.89 549.50,1090.59 550.50,1090.28 C551.50,1089.98 552.50,1089.67 553.50,1089.36 C554.50,1089.04 555.50,1088.73 556.50,1088.41 C557.50,1088.09 558.50,1087.76 559.50,1087.43 C560.50,1087.09 561.50,1086.76 562.50,1086.41 C563.50,1086.07 564.50,1085.72 565.50,1085.37 C566.50,1085.01 567.50,1084.66 568.50,1084.30 C569.50,1083.94 570.50,1083.58 571.50,1083.21 C572.50,1082.85 573.50,1082.49 574.50,1082.12 C575.50,1081.76 576.50,1081.39 577.50,1081.03 C578.50,1080.66 579.50,1080.29 580.50,1079.92 C581.50,1079.56 582.50,1079.19 583.50,1078.82 C584.50,1078.45 585.50,1078.08 586.50,1077.70 C587.50,1077.33 588.50,1076.96 589.50,1076.59 C590.50,1076.21 591.50,1075.84 592.50,1075.46 C593.50,1075.09 594.50,1074.71 595.50,1074.33 C596.50,1073.95 597.50,1073.57 598.50,1073.19 C599.50,1072.80 600.50,1072.41 601.50,1072.02 C602.50,1071.63 603.50,1071.23 604.50,1070.83 C605.50,1070.43 606.50,1070.03 607.50,1069.62 C608.50,1069.21 609.50,1068.80 610.50,1068.39 C611.50,1067.98 612.50,1067.57 613.50,1067.16 C614.50,1066.74 615.50,1066.33 616.50,1065.91 C617.50,1065.49 618.50,1065.08 619.50,1064.66 C620.50,1064.23 621.50,1063.81 622.50,1063.39 C623.50,1062.96 624.50,1062.53 625.50,1062.11 C626.50,1061.68 627.50,1061.24 628.50,1060.81 C629.50,1060.37 630.50,1059.94 631.50,1059.50 C632.50,1059.06 633.50,1058.62 634.50,1058.17 C635.50,1057.73 636.50,1057.28 637.50,1056.82 C638.50,1056.37 639.50,1055.91 640.50,1055.45 C641.50,1054.99 642.50,1054.52 643.50,1054.04 C644.50,1053.57 645.50,1053.09 646.50,1052.61 C647.50,1052.14 648.50,1051.65 649.50,1051.17 C650.50,1050.69 651.50,1050.20 652.50,1049.73 C653.50,1049.25 654.50,1048.77 655.50,1048.30 C656.50,1047.83 657.50,1047.36 658.50,1046.90 C659.50,1046.45 660.50,1046.00 661.50,1045.57 C662.50,1045.14 663.50,1044.72 664.50,1044.32 C665.50,1043.92 666.50,1043.53 667.50,1043.14 C668.50,1042.76 669.50,1042.40 670.50,1042.03 C671.50,1041.67 672.50,1041.31 673.50,1040.96 C674.50,1040.60 675.50,1040.25 676.50,1039.90 C677.50,1039.55 678.50,1039.20 679.50,1038.86 C680.50,1038.51 681.50,1038.16 682.50,1037.82 C683.50,1037.48 684.50,1037.13 685.50,1036.80 C686.50,1036.47 687.50,1036.14 688.50,1035.82 C689.50,1035.51 690.50,1035.20 691.50,1034.92 C692.50,1034.63 693.50,1034.36 694.50,1034.11 C695.50,1033.86 696.50,1033.63 697.50,1033.41 C698.50,1033.19 699.50,1032.99 700.50,1032.80 C701.50,1032.61 702.50,1032.43 703.50,1032.25 C704.50,1032.08 705.50,1031.91 706.50,1031.74 C707.50,1031.57 708.50,1031.41 709.50,1031.24 C710.50,1031.08 711.50,1030.92 712.50,1030.76 C713.50,1030.60 714.50,1030.44 715.50,1030.29 C716.50,1030.14 717.50,1029.99 718.50,1029.85 C719.50,1029.70 720.50,1029.57 721.50,1029.44 C722.50,1029.30 723.50,1029.18 724.50,1029.06 C725.50,1028.93 726.50,1028.82 727.50,1028.70 C728.50,1028.59 729.50,1028.48 730.50,1028.37 C731.50,1028.25 732.50,1028.15 733.50,1028.04 C734.50,1027.93 735.50,1027.82 736.50,1027.71 C737.50,1027.61 738.50,1027.50 739.50,1027.40 C740.50,1027.29 741.50,1027.19 742.50,1027.09 C743.50,1026.99 744.50,1026.89 745.50,1026.79 C746.50,1026.70 747.50,1026.60 748.50,1026.51 C749.50,1026.41 750.50,1026.32 751.50,1026.22 C752.50,1026.13 753.50,1026.04 754.50,1025.95 C755.50,1025.85 756.50,1025.76 757.50,1025.67 C758.50,1025.58 759.50,1025.49 760.50,1025.40 C761.50,1025.31 762.50,1025.22 763.50,1025.13 C764.50,1025.03 765.50,1024.94 766.50,1024.85 C767.50,1024.77 768.50,1024.68 769.50,1024.59 C770.50,1024.50 771.50,1024.41 772.50,1024.32 C773.50,1024.23 774.50,1024.15 775.50,1024.06 C776.50,1023.97 777.50,1023.88 778.50,1023.80 C779.50,1023.71 780.50,1023.62 781.50,1023.54 C782.50,1023.45 783.50,1023.37 784.50,1023.28 C785.50,1023.20 786.50,1023.12 787.50,1023.05 C788.50,1022.97 789.50,1022.90 790.50,1022.83 C791.50,1022.76 792.50,1022.69 793.50,1022.63 C794.50,1022.57 795.50,1022.51 796.50,1022.46 C797.50,1022.40 798.50,1022.35 799.50,1022.30 C800.50,1022.25 801.50,1022.20 802.50,1022.16 C803.50,1022.12 804.50,1022.08 805.50,1022.05 C806.50,1022.01 807.50,1021.98 808.50,1021.96 C809.50,1021.94 810.50,1021.92 811.50,1021.91 C812.50,1021.90 813.50,1021.90 814.50,1021.90 C815.50,1021.90 816.50,1021.90 817.50,1021.91 C818.50,1021.92 819.50,1021.93 820.50,1021.95 C821.50,1021.97 822.50,1021.99 823.50,1022.02 C824.50,1022.05 825.50,1022.08 826.50,1022.12 C827.50,1022.17 828.50,1022.22 829.50,1022.27 C830.50,1022.33 831.50,1022.40 832.50,1022.47 C833.50,1022.54 834.50,1022.62 835.50,1022.70 C836.50,1022.78 837.50,1022.87 838.50,1022.96 C839.50,1023.04 840.50,1023.13 841.50,1023.22 C842.50,1023.31 843.50,1023.40 844.50,1023.49 C845.50,1023.58 846.50,1023.67 847.50,1023.76 C848.50,1023.85 849.50,1023.94 850.50,1024.03 C851.50,1024.12 852.50,1024.21 853.50,1024.30 C854.50,1024.40 855.50,1024.49 856.50,1024.58 C857.50,1024.67 858.50,1024.76 859.50,1024.85 C860.50,1024.94 861.50,1025.03 862.50,1025.12 C863.50,1025.21 864.50,1025.30 865.50,1025.39 C866.50,1025.48 867.50,1025.57 868.50,1025.66 C869.50,1025.76 870.50,1025.85 871.50,1025.94 C872.50,1026.04 873.50,1026.14 874.50,1026.24 C875.50,1026.34 876.50,1026.44 877.50,1026.55 C878.50,1026.66 879.50,1026.78 880.50,1026.90 C881.50,1027.02 882.50,1027.15 883.50,1027.28 C884.50,1027.41 885.50,1027.55 886.50,1027.69 C887.50,1027.83 888.50,1027.98 889.50,1028.12 C890.50,1028.27 891.50,1028.42 892.50,1028.56 C893.50,1028.71 894.50,1028.86 895.50,1029.01 C896.50,1029.16 897.50,1029.30 898.50,1029.45 C899.50,1029.60 900.50,1029.75 901.50,1029.90 C902.50,1030.05 903.50,1030.20 904.50,1030.35 C905.50,1030.50 906.50,1030.64 907.50,1030.79 C908.50,1030.94 909.50,1031.09 910.50,1031.24 C911.50,1031.39 912.50,1031.54 913.50,1031.69 C914.50,1031.84 915.50,1031.98 916.50,1032.13 C917.50,1032.28 918.50,1032.43 919.50,1032.58 C920.50,1032.73 921.50,1032.88 922.50,1033.03 C923.50,1033.18 924.50,1033.33 925.50,1033.48 C926.50,1033.63 927.50,1033.77 928.50,1033.92 C929.50,1034.07 930.50,1034.23 931.50,1034.38 C932.50,1034.53 933.50,1034.68 934.50,1034.83 C935.50,1034.98 936.50,1035.13 937.50,1035.28 C938.50,1035.43 939.50,1035.58 940.50,1035.73 C941.50,1035.88 942.50,1036.03 943.50,1036.18 C944.50,1036.34 945.50,1036.49 946.50,1036.64 C947.50,1036.79 948.50,1036.94 949.50,1037.09 C950.50,1037.24 951.50,1037.39 952.50,1037.54 C953.50,1037.69 954.50,1037.85 955.50,1038.00 C956.50,1038.15 957.50,1038.30 958.50,1038.45 C959.50,1038.60 960.50,1038.75 961.50,1038.90 C962.50,1039.05 963.50,1039.20 964.50,1039.35 C965.50,1039.50 966.50,1039.65 967.50,1039.80 C968.50,1039.95 969.50,1040.10 970.50,1040.24 C971.50,1040.39 972.50,1040.53 973.50,1040.67 C974.50,1040.82 975.50,1040.95 976.50,1041.09 C977.50,1041.23 978.50,1041.36 979.50,1041.49 C980.50,1041.63 981.50,1041.76 982.50,1041.89 C983.50,1042.02 984.50,1042.14 985.50,1042.27 C986.50,1042.40 987.50,1042.52 988.50,1042.65 C989.50,1042.78 990.50,1042.90 991.50,1043.03 C992.50,1043.16 993.50,1043.28 994.50,1043.41 C995.50,1043.53 996.50,1043.66 997.50,1043.79 C998.50,1043.91 999.50,1044.04 1000.50,1044.16 C1001.50,1044.29 1002.50,1044.42 1003.50,1044.54 C1004.50,1044.67 1005.50,1044.79 1006.50,1044.92 C1007.50,1045.05 1008.50,1045.17 1009.50,1045.30 C1010.50,1045.43 1011.50,1045.55 1012.50,1045.68 C1013.50,1045.81 1014.50,1045.94 1015.50,1046.08 C1016.50,1046.21 1017.50,1046.35 1018.50,1046.49 C1019.50,1046.64 1020.50,1046.78 1021.50,1046.94 C1022.50,1047.10 1023.50,1047.26 1024.50,1047.43 C1025.50,1047.60 1026.50,1047.78 1027.50,1047.96 C1028.50,1048.14 1029.50,1048.33 1030.50,1048.52 C1031.50,1048.72 1032.50,1048.91 1033.50,1049.11 C1034.50,1049.31 1035.50,1049.51 1036.50,1049.71 C1037.50,1049.92 1038.50,1050.12 1039.50,1050.33 C1040.50,1050.54 1041.50,1050.76 1042.50,1050.98 C1043.50,1051.20 1044.50,1051.43 1045.50,1051.67 C1046.50,1051.91 1047.50,1052.17 1048.50,1052.42 C1049.50,1052.68 1050.50,1052.95 1051.50,1053.23 C1052.50,1053.51 1053.50,1053.79 1054.50,1054.08 C1055.50,1054.37 1056.50,1054.66 1057.50,1054.96 C1058.50,1055.25 1059.50,1055.55 1060.50,1055.84 C1061.50,1056.14 1062.50,1056.43 1063.50,1056.72 C1064.50,1057.01 1065.50,1057.29 1066.50,1057.57 C1067.50,1057.84 1068.50,1058.11 1069.50,1058.37 C1070.50,1058.63 1071.50,1058.87 1072.50,1059.11 C1073.50,1059.35 1074.50,1059.58 1075.50,1059.80 C1076.50,1060.02 1077.50,1060.23 1078.50,1060.44 C1079.50,1060.64 1080.50,1060.84 1081.50,1061.04 C1082.50,1061.24 1083.50,1061.44 1084.50,1061.63 C1085.50,1061.82 1086.50,1062.02 1087.50,1062.20 C1088.50,1062.39 1089.50,1062.57 1090.50,1062.74 C1091.50,1062.92 1092.50,1063.08 1093.50,1063.24 C1094.50,1063.40 1095.50,1063.55 1096.50,1063.69 C1097.50,1063.83 1098.50,1063.95 1099.50,1064.08 C1100.50,1064.20 1101.50,1064.32 1102.50,1064.43 C1103.50,1064.54 1104.50,1064.65 1105.50,1064.75 C1106.50,1064.86 1107.50,1064.96 1108.50,1065.06 C1109.50,1065.16 1110.50,1065.27 1111.50,1065.37 C1112.50,1065.47 1113.50,1065.57 1114.50,1065.67 C1115.50,1065.77 1116.50,1065.87 1117.50,1065.97 C1118.50,1066.07 1119.50,1066.18 1120.50,1066.28 C1121.50,1066.38 1122.50,1066.48 1123.50,1066.58 C1124.50,1066.68 1125.50,1066.78 1126.50,1066.88 C1127.50,1066.99 1128.50,1067.09 1129.50,1067.19 C1130.50,1067.29 1131.50,1067.39 1132.50,1067.50 C1133.50,1067.60 1134.50,1067.71 1135.50,1067.82 C1136.50,1067.93 1137.50,1068.04 1138.50,1068.16 C1139.50,1068.28 1140.50,1068.41 1141.50,1068.54 C1142.50,1068.67 1143.50,1068.81 1144.50,1068.96 C1145.50,1069.10 1146.50,1069.26 1147.50,1069.42 C1148.50,1069.57 1149.50,1069.74 1150.50,1069.91 C1151.50,1070.07 1152.50,1070.24 1153.50,1070.41 C1154.50,1070.58 1155.50,1070.76 1156.50,1070.93 C1157.50,1071.10 1158.50,1071.27 1159.50,1071.45 C1160.50,1071.62 1161.50,1071.79 1162.50,1071.97 C1163.50,1072.14 1164.50,1072.31 1165.50,1072.49 C1166.50,1072.66 1167.50,1072.83 1168.50,1073.00 C1169.50,1073.18 1170.50,1073.35 1171.50,1073.52 C1172.50,1073.69 1173.50,1073.86 1174.50,1074.02 C1175.50,1074.18 1176.50,1074.35 1177.50,1074.51 C1178.50,1074.66 1179.50,1074.82 1180.50,1074.97 C1181.50,1075.12 1182.50,1075.26 1183.50,1075.40 C1184.50,1075.54 1185.50,1075.68 1186.50,1075.81 C1187.50,1075.95 1188.50,1076.08 1189.50,1076.21 C1190.50,1076.34 1191.50,1076.47 1192.50,1076.59 C1193.50,1076.72 1194.50,1076.85 1195.50,1076.98 C1196.50,1077.11 1197.50,1077.23 1198.50,1077.36 C1199.50,1077.49 1200.50,1077.62 1201.50,1077.74 C1202.50,1077.87 1203.50,1078.00 1204.50,1078.13 C1205.50,1078.25 1206.50,1078.38 1207.50,1078.51 C1208.50,1078.63 1209.50,1078.76 1210.50,1078.88 C1211.50,1079.01 1212.50,1079.13 1213.50,1079.26 C1214.50,1079.38 1215.50,1079.51 1216.50,1079.63 C1217.50,1079.76 1218.50,1079.88 1219.50,1080.01 C1220.50,1080.13 1221.50,1080.26 1222.50,1080.38 C1223.50,1080.51 1224.50,1080.63 1225.50,1080.75 C1226.50,1080.88 1227.50,1081.00 1228.50,1081.13 C1229.50,1081.25 1230.50,1081.38 1231.50,1081.50 C1232.50,1081.63 1233.50,1081.75 1234.50,1081.88 C1235.50,1082.00 1236.50,1082.12 1237.50,1082.25 C1238.50,1082.37 1239.50,1082.50 1240.50,1082.62 C1241.50,1082.75 1242.50,1082.87 1243.50,1083.00 C1244.50,1083.12 1245.50,1083.24 1246.50,1083.37 C1247.50,1083.49 1248.50,1083.62 1249.50,1083.74 C1250.50,1083.86 1251.50,1083.99 1252.50,1084.11 C1253.50,1084.23 1254.50,1084.35 1255.50,1084.46 C1256.50,1084.57 1257.50,1084.69 1258.50,1084.79 C1259.50,1084.89 1260.50,1084.99 1261.50,1085.08 C1262.50,1085.17 1263.50,1085.25 1264.50,1085.33 C1265.50,1085.41 1266.50,1085.47 1267.50,1085.54 C1268.50,1085.60 1269.50,1085.66 1270.50,1085.72 C1271.50,1085.78 1272.50,1085.83 1273.50,1085.88 C1274.50,1085.94 1275.50,1085.99 1276.50,1086.04 C1277.50,1086.09 1278.50,1086.14 1279.50,1086.20 C1280.50,1086.25 1281.50,1086.30 1282.50,1086.36 C1283.50,1086.41 1284.50,1086.47 1285.50,1086.53 C1286.50,1086.59 1287.50,1086.65 1288.50,1086.71 C1289.50,1086.78 1290.50,1086.84 1291.50,1086.91 C1292.50,1086.98 1293.50,1087.06 1294.50,1087.13 C1295.50,1087.20 1296.50,1087.28 1297.50,1087.35 C1298.50,1087.43 1299.50,1087.51 1300.50,1087.58 C1301.50,1087.66 1302.50,1087.73 1303.50,1087.80 C1304.50,1087.88 1305.50,1087.95 1306.50,1088.02 C1307.50,1088.09 1308.50,1088.16 1309.50,1088.23 C1310.50,1088.30 1311.50,1088.36 1312.50,1088.43 C1313.50,1088.50 1314.50,1088.57 1315.50,1088.63 C1316.50,1088.70 1317.50,1088.77 1318.50,1088.83 C1319.50,1088.90 1320.50,1088.97 1321.50,1089.03 C1322.50,1089.10 1323.50,1089.17 1324.50,1089.23 C1325.50,1089.30 1326.50,1089.37 1327.50,1089.43 C1328.50,1089.50 1329.50,1089.57 1330.50,1089.63 C1331.50,1089.70 1332.50,1089.77 1333.50,1089.83 C1334.50,1089.90 1335.50,1089.97 1336.50,1090.03 C1337.50,1090.10 1338.50,1090.17 1339.50,1090.23 C1340.50,1090.30 1341.50,1090.36 1342.50,1090.43 C1343.50,1090.50 1344.50,1090.56 1345.50,1090.63 C1346.50,1090.69 1347.50,1090.75 1348.50,1090.81 C1349.50,1090.88 1350.50,1090.94 1351.50,1091.00 C1352.50,1091.05 1353.50,1091.11 1354.50,1091.17 C1355.50,1091.23 1356.50,1091.28 1357.50,1091.33 C1358.50,1091.39 1359.50,1091.44 1360.50,1091.50 C1361.50,1091.55 1362.50,1091.60 1363.50,1091.65 C1364.50,1091.71 1365.50,1091.76 1366.50,1091.81 C1367.50,1091.86 1368.50,1091.92 1369.50,1091.97 C1370.50,1092.02 1371.50,1092.07 1372.50,1092.13 C1373.50,1092.18 1374.50,1092.23 1375.50,1092.28 C1376.50,1092.34 1377.50,1092.39 1378.50,1092.44 C1379.50,1092.49 1380.50,1092.55 1381.50,1092.60 C1382.50,1092.65 1383.50,1092.70 1384.50,1092.76 C1385.50,1092.81 1386.50,1092.86 1387.50,1092.91 C1388.50,1092.97 1389.50,1093.02 1390.50,1093.08 C1391.50,1093.13 1392.50,1093.18 1393.50,1093.24 C1394.50,1093.30 1395.50,1093.36 1396.50,1093.42 C1397.50,1093.48 1398.50,1093.54 1399.50,1093.60 C1400.50,1093.67 1401.50,1093.73 1402.50,1093.80 C1403.50,1093.87 1404.50,1093.94 1405.50,1094.01 C1406.50,1094.08 1407.50,1094.16 1408.50,1094.23 C1409.50,1094.30 1410.50,1094.37 1411.50,1094.45 C1412.50,1094.52 1413.50,1094.60 1414.50,1094.67 C1415.50,1094.74 1416.50,1094.82 1417.50,1094.89 C1418.50,1094.97 1419.50,1095.04 1420.50,1095.11 C1421.50,1095.19 1422.50,1095.26 1423.50,1095.34 C1424.50,1095.41 1425.50,1095.48 1426.50,1095.56 C1427.50,1095.63 1428.50,1095.71 1429.50,1095.78 C1430.50,1095.85 1431.50,1095.93 1432.50,1096.00 C1433.50,1096.08 1434.50,1096.15 1435.50,1096.22 C1436.50,1096.30 1437.50,1096.37 1438.50,1096.45 C1439.50,1096.52 1440.50,1096.59 1441.50,1096.67 C1442.50,1096.74 1443.50,1096.82 1444.50,1096.89 C1445.50,1096.96 1446.50,1097.04 1447.50,1097.11 C1448.50,1097.19 1449.50,1097.26 1450.50,1097.33 C1451.50,1097.41 1452.50,1097.48 1453.50,1097.56 C1454.50,1097.63 1455.50,1097.70 1456.50,1097.78 C1457.50,1097.85 1458.50,1097.93 1459.50,1098.00 C1460.50,1098.07 1461.50,1098.15 1462.50,1098.22 C1463.50,1098.30 1464.50,1098.37 1465.50,1098.44 C1466.50,1098.52 1467.50,1098.59 1468.50,1098.67 C1469.50,1098.74 1470.50,1098.81 1471.50,1098.89 C1472.50,1098.96 1473.50,1099.04 1474.50,1099.11 C1475.50,1099.19 1476.50,1099.26 1477.50,1099.33 C1478.50,1099.41 1479.50,1099.48 1480.50,1099.56 C1481.50,1099.63 1482.50,1099.70 1483.50,1099.78 C1484.50,1099.85 1485.50,1099.93 1486.50,1100.00 C1487.50,1100.07 1488.50,1100.15 1489.50,1100.22 C1490.50,1100.30 1491.50,1100.37 1492.50,1100.45 C1493.50,1100.52 1494.50,1100.60 1495.50,1100.67 C1496.50,1100.75 1497.50,1100.83 1498.50,1100.91 C1499.50,1100.98 1500.50,1101.06 1501.50,1101.14 C1502.50,1101.22 1503.50,1101.30 1504.50,1101.38 C1505.50,1101.46 1506.50,1101.55 1507.50,1101.63 C1508.50,1101.71 1509.50,1101.79 1510.50,1101.88 C1511.50,1101.96 1512.50,1102.04 1513.50,1102.13 C1514.50,1102.21 1515.50,1102.29 1516.50,1102.38 C1517.50,1102.46 1518.50,1102.54 1519.50,1102.63 C1520.50,1102.71 1521.50,1102.79 1522.50,1102.88 C1523.50,1102.96 1524.50,1103.04 1525.50,1103.12 C1526.50,1103.21 1527.50,1103.29 1528.50,1103.38 C1529.50,1103.46 1530.50,1103.54 1531.50,1103.62 C1532.50,1103.71 1533.50,1103.79 1534.50,1103.88 C1535.50,1103.96 1536.50,1104.04 1537.50,1104.12 C1538.50,1104.21 1539.50,1104.29 1540.50,1104.37 C1541.50,1104.46 1542.50,1104.54 1543.50,1104.62 C1544.50,1104.71 1545.50,1104.79 1546.50,1104.87 C1547.50,1104.96 1548.50,1105.04 1549.50,1105.12 C1550.50,1105.20 1551.50,1105.28 1552.50,1105.35 C1553.50,1105.43 1554.50,1105.50 1555.50,1105.57 C1556.50,1105.64 1557.50,1105.70 1558.50,1105.76 C1559.50,1105.82 1560.50,1105.87 1561.50,1105.91 C1562.50,1105.95 1563.50,1105.99 1564.50,1106.02 C1565.50,1106.05 1566.50,1106.08 1567.50,1106.10 C1568.50,1106.13 1569.50,1106.15 1570.50,1106.17 C1571.50,1106.19 1572.50,1106.21 1573.50,1106.22 C1574.50,1106.24 1575.50,1106.26 1576.50,1106.27 C1577.50,1106.29 1578.50,1106.31 1579.50,1106.32 C1580.50,1106.34 1581.50,1106.36 1582.50,1106.38 C1583.50,1106.39 1584.50,1106.41 1585.50,1106.43 C1586.50,1106.44 1587.50,1106.46 1588.50,1106.47 C1589.50,1106.49 1590.50,1106.51 1591.50,1106.53 C1592.50,1106.54 1593.50,1106.56 1594.50,1106.58 C1595.50,1106.59 1596.50,1106.61 1597.50,1106.62 C1598.50,1106.64 1599.50,1106.66 1600.50,1106.67 C1601.50,1106.69 1602.50,1106.71 1603.50,1106.72 C1604.50,1106.74 1605.50,1106.76 1606.50,1106.77 C1607.50,1106.79 1608.50,1106.81 1609.50,1106.82 C1610.50,1106.84 1611.50,1106.86 1612.50,1106.87 C1613.50,1106.89 1614.50,1106.90 1615.50,1106.92 C1616.50,1106.93 1617.50,1106.95 1618.50,1106.96 C1619.50,1106.97 1620.50,1106.98 1621.50,1107.00 C1622.50,1107.01 1623.50,1107.02 1624.50,1107.03 C1625.50,1107.04 1626.50,1107.05 1627.50,1107.05 C1628.50,1107.06 1629.50,1107.07 1630.50,1107.08 C1631.50,1107.09 1632.50,1107.09 1633.50,1107.10 C1634.50,1107.11 1635.50,1107.12 1636.50,1107.12 C1637.50,1107.13 1638.50,1107.14 1639.50,1107.15 C1640.50,1107.16 1641.50,1107.16 1642.50,1107.17 C1643.50,1107.18 1644.50,1107.19 1645.50,1107.19 C1646.50,1107.20 1647.50,1107.21 1648.50,1107.22 C1649.50,1107.22 1650.50,1107.23 1651.50,1107.24 C1652.50,1107.25 1653.50,1107.25 1654.50,1107.26 C1655.50,1107.27 1656.50,1107.28 1657.50,1107.28 C1658.50,1107.29 1659.50,1107.30 1660.50,1107.31 C1661.50,1107.31 1662.50,1107.32 1663.50,1107.33 C1664.50,1107.34 1665.50,1107.34 1666.50,1107.35 C1667.50,1107.36 1668.50,1107.37 1669.50,1107.37 C1670.50,1107.38 1671.50,1107.39 1672.50,1107.40 C1673.50,1107.40 1674.50,1107.41 1675.50,1107.42 C1676.50,1107.43 1677.50,1107.43 1678.50,1107.44 C1679.50,1107.45 1680.50,1107.45 1681.50,1107.46 C1682.50,1107.46 1683.50,1107.47 1684.50,1107.47"/>
<path stroke="#00f" d="M206.00,1107.00 C210.00,1106.83 214.82,1107.63 218.00,1106.50 C220.51,1105.60 222.24,1103.91 224.00,1102.00 C225.97,1099.85 227.62,1096.63 229.00,1094.00 C230.24,1091.64 231.00,1089.97 232.00,1087.00 C233.61,1082.19 235.57,1074.12 236.80,1067.60 C238.03,1061.12 238.70,1054.49 239.40,1048.00 C240.09,1041.63 240.51,1035.71 241.00,1029.00 C241.55,1021.47 241.90,1014.28 242.50,1005.00 C243.33,992.20 244.42,974.69 245.60,959.30 C246.81,943.56 248.22,924.72 249.70,911.60 C250.74,902.35 250.93,894.97 253.00,888.00 C254.78,882.00 258.20,871.99 260.50,872.00 C262.49,872.01 264.11,879.11 266.00,884.00 C268.80,891.25 271.89,901.08 274.80,911.60 C278.58,925.28 282.82,946.69 286.00,959.30 C288.11,967.64 289.74,973.22 291.60,980.00 C293.40,986.57 294.98,992.97 297.00,999.40 C299.04,1005.90 301.55,1013.26 303.80,1018.80 C305.54,1023.09 307.36,1026.19 309.00,1030.00 C310.67,1033.88 311.94,1037.96 313.70,1041.90 C315.50,1045.93 317.42,1049.98 319.70,1053.90 C322.06,1057.95 324.64,1061.95 327.70,1065.80 C330.96,1069.90 335.14,1074.50 338.80,1077.70 C341.79,1080.32 344.45,1081.98 347.70,1084.00 C351.34,1086.26 355.77,1088.53 359.70,1090.50 C363.37,1092.34 366.99,1094.04 370.50,1095.50 C373.74,1096.84 376.58,1097.84 380.00,1099.00 C383.93,1100.34 387.87,1101.95 392.80,1103.00 C399.26,1104.38 411.55,1105.36 415.60,1105.70 C417.06,1105.82 417.60,1105.79 418.60,1105.85 C419.60,1105.90 420.60,1105.97 421.60,1106.04 C422.60,1106.11 423.60,1106.19 424.60,1106.26 C425.60,1106.34 426.60,1106.42 427.60,1106.50 C428.60,1106.58 429.60,1106.66 430.60,1106.74 C431.60,1106.82 432.60,1106.90 433.60,1106.98 C434.60,1107.05 435.60,1107.13 436.60,1107.20 C437.60,1107.27 438.60,1107.33 439.60,1107.39 C440.60,1107.46 441.60,1107.51 442.60,1107.56 C443.60,1107.61 444.60,1107.66 445.60,1107.69 C446.60,1107.73 447.60,1107.76 448.60,1107.78 C449.60,1107.80 450.60,1107.81 451.60,1107.81 C452.60,1107.81 453.60,1107.80 454.60,1107.79 C455.60,1107.78 456.60,1107.75 457.60,1107.73 C458.60,1107.70 459.60,1107.67 460.60,1107.64 C461.60,1107.60 462.60,1107.56 463.60,1107.52 C464.60,1107.47 465.60,1107.43 466.60,1107.37 C467.60,1107.32 468.60,1107.27 469.60,1107.21 C470.60,1107.15 471.60,1107.09 472.60,1107.03 C473.60,1106.97 474.60,1106.91 475.60,1106.85 C476.60,1106.79 477.60,1106.74 478.60,1106.69 C479.60,1106.64 480.60,1106.59 481.60,1106.55 C482.60,1106.51 483.60,1106.47 484.60,1106.44 C485.60,1106.40 486.60,1106.38 487.60,1106.35 C488.60,1106.32 489.60,1106.30 490.60,1106.27 C491.60,1106.24 492.60,1106.22 493.60,1106.19 C494.60,1106.17 495.60,1106.14 496.60,1106.11 C497.60,1106.07 498.60,1106.04 499.60,1106.00 C500.60,1105.96 501.60,1105.91 502.60,1105.86 C503.60,1105.80 504.60,1105.74 505.60,1105.67 C506.60,1105.61 507.60,1105.53 508.60,1105.46 C509.60,1105.38 510.60,1105.30 511.60,1105.21 C512.60,1105.13 513.60,1105.04 514.60,1104.96 C515.60,1104.87 516.60,1104.78 517.60,1104.68 C518.60,1104.59 519.60,1104.49 520.60,1104.39 C521.60,1104.29 522.60,1104.19 523.60,1104.07 C524.60,1103.96 525.60,1103.84 526.60,1103.72 C527.60,1103.59 528.60,1103.46 529.60,1103.33 C530.60,1103.19 531.60,1103.05 532.60,1102.90 C533.60,1102.76 534.60,1102.61 535.60,1102.45 C536.60,1102.30 537.60,1102.15 538.60,1101.99 C539.60,1101.84 540.60,1101.68 541.60,1101.52 C542.60,1101.36 543.60,1101.19 544.60,1101.02 C545.60,1100.85 546.60,1100.68 547.60,1100.50 C548.60,1100.32 549.60,1100.13 550.60,1099.95 C551.60,1099.76 552.60,1099.56 553.60,1099.37 C554.60,1099.18 555.60,1098.98 556.60,1098.79 C557.60,1098.60 558.60,1098.42 559.60,1098.24 C560.60,1098.06 561.60,1097.89 562.60,1097.72 C563.60,1097.55 564.60,1097.39 565.60,1097.24 C566.60,1097.08 567.60,1096.93 568.60,1096.78 C569.60,1096.62 570.60,1096.48 571.60,1096.32 C572.60,1096.17 573.60,1096.02 574.60,1095.86 C575.60,1095.70 576.60,1095.53 577.60,1095.36 C578.60,1095.18 579.60,1094.99 580.60,1094.80 C581.60,1094.60 582.60,1094.39 583.60,1094.18 C584.60,1093.96 585.60,1093.73 586.60,1093.50 C587.60,1093.26 588.60,1093.02 589.60,1092.77 C590.60,1092.53 591.60,1092.28 592.60,1092.03 C593.60,1091.78 594.60,1091.53 595.60,1091.28 C596.60,1091.03 597.60,1090.78 598.60,1090.53 C599.60,1090.28 600.60,1090.04 601.60,1089.79 C602.60,1089.55 603.60,1089.30 604.60,1089.06 C605.60,1088.82 606.60,1088.58 607.60,1088.34 C608.60,1088.10 609.60,1087.87 610.60,1087.63 C611.60,1087.39 612.60,1087.16 613.60,1086.92 C614.60,1086.69 615.60,1086.45 616.60,1086.22 C617.60,1085.99 618.60,1085.75 619.60,1085.52 C620.60,1085.29 621.60,1085.06 622.60,1084.83 C623.60,1084.60 624.60,1084.37 625.60,1084.14 C626.60,1083.91 627.60,1083.69 628.60,1083.46 C629.60,1083.24 630.60,1083.02 631.60,1082.80 C632.60,1082.58 633.60,1082.36 634.60,1082.14 C635.60,1081.93 636.60,1081.72 637.60,1081.51 C638.60,1081.31 639.60,1081.11 640.60,1080.91 C641.60,1080.72 642.60,1080.53 643.60,1080.34 C644.60,1080.16 645.60,1079.98 646.60,1079.80 C647.60,1079.62 648.60,1079.45 649.60,1079.28 C650.60,1079.10 651.60,1078.93 652.60,1078.76 C653.60,1078.58 654.60,1078.41 655.60,1078.23 C656.60,1078.05 657.60,1077.86 658.60,1077.67 C659.60,1077.48 660.60,1077.29 661.60,1077.08 C662.60,1076.87 663.60,1076.66 664.60,1076.44 C665.60,1076.21 666.60,1075.98 667.60,1075.74 C668.60,1075.51 669.60,1075.26 670.60,1075.01 C671.60,1074.76 672.60,1074.51 673.60,1074.26 C674.60,1074.00 675.60,1073.74 676.60,1073.49 C677.60,1073.23 678.60,1072.97 679.60,1072.72 C680.60,1072.46 681.60,1072.20 682.60,1071.95 C683.60,1071.70 684.60,1071.44 685.60,1071.19 C686.60,1070.95 687.60,1070.70 688.60,1070.47 C689.60,1070.23 690.60,1070.00 691.60,1069.79 C692.60,1069.58 693.60,1069.37 694.60,1069.18 C695.60,1068.99 696.60,1068.81 697.60,1068.64 C698.60,1068.47 699.60,1068.31 700.60,1068.16 C701.60,1068.01 702.60,1067.87 703.60,1067.72 C704.60,1067.58 705.60,1067.45 706.60,1067.31 C707.60,1067.17 708.60,1067.04 709.60,1066.91 C710.60,1066.77 711.60,1066.64 712.60,1066.51 C713.60,1066.39 714.60,1066.26 715.60,1066.14 C716.60,1066.02 717.60,1065.90 718.60,1065.79 C719.60,1065.68 720.60,1065.57 721.60,1065.47 C722.60,1065.37 723.60,1065.28 724.60,1065.18 C725.60,1065.09 726.60,1065.01 727.60,1064.92 C728.60,1064.84 729.60,1064.76 730.60,1064.68 C731.60,1064.60 732.60,1064.52 733.60,1064.44 C734.60,1064.36 735.60,1064.28 736.60,1064.20 C737.60,1064.12 738.60,1064.05 739.60,1063.97 C740.60,1063.89 741.60,1063.81 742.60,1063.73 C743.60,1063.66 744.60,1063.58 745.60,1063.50 C746.60,1063.42 747.60,1063.35 748.60,1063.27 C749.60,1063.19 750.60,1063.11 751.60,1063.04 C752.60,1062.96 753.60,1062.88 754.60,1062.81 C755.60,1062.73 756.60,1062.65 757.60,1062.57 C758.60,1062.50 759.60,1062.42 760.60,1062.34 C761.60,1062.27 762.60,1062.19 763.60,1062.11 C764.60,1062.03 765.60,1061.96 766.60,1061.88 C767.60,1061.80 768.60,1061.73 769.60,1061.65 C770.60,1061.57 771.60,1061.50 772.60,1061.42 C773.60,1061.34 774.60,1061.26 775.60,1061.19 C776.60,1061.11 777.60,1061.03 778.60,1060.96 C779.60,1060.88 780.60,1060.81 781.60,1060.73 C782.60,1060.66 783.60,1060.59 784.60,1060.52 C785.60,1060.45 786.60,1060.38 787.60,1060.32 C788.60,1060.26 789.60,1060.21 790.60,1060.16 C791.60,1060.11 792.60,1060.07 793.60,1060.03 C794.60,1059.99 795.60,1059.96 796.60,1059.93 C797.60,1059.90 798.60,1059.87 799.60,1059.85 C800.60,1059.83 801.60,1059.80 802.60,1059.78 C803.60,1059.76 804.60,1059.74 805.60,1059.72 C806.60,1059.71 807.60,1059.69 808.60,1059.67 C809.60,1059.65 810.60,1059.63 811.60,1059.61 C812.60,1059.59 813.60,1059.57 814.60,1059.55 C815.60,1059.54 816.60,1059.52 817.60,1059.50 C818.60,1059.49 819.60,1059.47 820.60,1059.46 C821.60,1059.44 822.60,1059.43 823.60,1059.42 C824.60,1059.42 825.60,1059.41 826.60,1059.41 C827.60,1059.41 828.60,1059.42 829.60,1059.43 C830.60,1059.44 831.60,1059.45 832.60,1059.47 C833.60,1059.49 834.60,1059.51 835.60,1059.54 C836.60,1059.56 837.60,1059.59 838.60,1059.62 C839.60,1059.64 840.60,1059.67 841.60,1059.70 C842.60,1059.73 843.60,1059.76 844.60,1059.79 C845.60,1059.82 846.60,1059.85 847.60,1059.87 C848.60,1059.90 849.60,1059.93 850.60,1059.96 C851.60,1059.99 852.60,1060.02 853.60,1060.05 C854.60,1060.08 855.60,1060.11 856.60,1060.14 C857.60,1060.17 858.60,1060.20 859.60,1060.23 C860.60,1060.26 861.60,1060.28 862.60,1060.31 C863.60,1060.34 864.60,1060.37 865.60,1060.40 C866.60,1060.43 867.60,1060.46 868.60,1060.49 C869.60,1060.52 870.60,1060.55 871.60,1060.58 C872.60,1060.61 873.60,1060.64 874.60,1060.67 C875.60,1060.70 876.60,1060.73 877.60,1060.76 C878.60,1060.79 879.60,1060.82 880.60,1060.85 C881.60,1060.89 882.60,1060.92 883.60,1060.96 C884.60,1060.99 885.60,1061.03 886.60,1061.07 C887.60,1061.11 888.60,1061.15 889.60,1061.19 C890.60,1061.23 891.60,1061.28 892.60,1061.32 C893.60,1061.37 894.60,1061.42 895.60,1061.46 C896.60,1061.51 897.60,1061.56 898.60,1061.61 C899.60,1061.65 900.60,1061.70 901.60,1061.75 C902.60,1061.80 903.60,1061.84 904.60,1061.89 C905.60,1061.94 906.60,1061.99 907.60,1062.04 C908.60,1062.08 909.60,1062.13 910.60,1062.18 C911.60,1062.23 912.60,1062.28 913.60,1062.32 C914.60,1062.37 915.60,1062.42 916.60,1062.47 C917.60,1062.52 918.60,1062.57 919.60,1062.62 C920.60,1062.67 921.60,1062.72 922.60,1062.78 C923.60,1062.83 924.60,1062.88 925.60,1062.94 C926.60,1063.00 927.60,1063.06 928.60,1063.13 C929.60,1063.19 930.60,1063.26 931.60,1063.33 C932.60,1063.40 933.60,1063.47 934.60,1063.55 C935.60,1063.62 936.60,1063.70 937.60,1063.77 C938.60,1063.85 939.60,1063.92 940.60,1064.00 C941.60,1064.08 942.60,1064.16 943.60,1064.23 C944.60,1064.31 945.60,1064.39 946.60,1064.47 C947.60,1064.54 948.60,1064.62 949.60,1064.70 C950.60,1064.78 951.60,1064.85 952.60,1064.93 C953.60,1065.01 954.60,1065.09 955.60,1065.16 C956.60,1065.24 957.60,1065.32 958.60,1065.40 C959.60,1065.47 960.60,1065.55 961.60,1065.63 C962.60,1065.71 963.60,1065.79 964.60,1065.86 C965.60,1065.94 966.60,1066.02 967.60,1066.10 C968.60,1066.18 969.60,1066.26 970.60,1066.34 C971.60,1066.43 972.60,1066.51 973.60,1066.60 C974.60,1066.68 975.60,1066.77 976.60,1066.86 C977.60,1066.96 978.60,1067.05 979.60,1067.14 C980.60,1067.24 981.60,1067.34 982.60,1067.43 C983.60,1067.53 984.60,1067.63 985.60,1067.73 C986.60,1067.83 987.60,1067.93 988.60,1068.03 C989.60,1068.13 990.60,1068.23 991.60,1068.33 C992.60,1068.43 993.60,1068.54 994.60,1068.64 C995.60,1068.74 996.60,1068.84 997.60,1068.94 C998.60,1069.04 999.60,1069.14 1000.60,1069.24 C1001.60,1069.34 1002.60,1069.44 1003.60,1069.54 C1004.60,1069.64 1005.60,1069.75 1006.60,1069.85 C1007.60,1069.95 1008.60,1070.05 1009.60,1070.15 C1010.60,1070.25 1011.60,1070.35 1012.60,1070.45 C1013.60,1070.55 1014.60,1070.65 1015.60,1070.75 C1016.60,1070.85 1017.60,1070.95 1018.60,1071.04 C1019.60,1071.14 1020.60,1071.24 1021.60,1071.33 C1022.60,1071.43 1023.60,1071.52 1024.60,1071.61 C1025.60,1071.70 1026.60,1071.79 1027.60,1071.88 C1028.60,1071.97 1029.60,1072.06 1030.60,1072.14 C1031.60,1072.23 1032.60,1072.32 1033.60,1072.40 C1034.60,1072.49 1035.60,1072.58 1036.60,1072.66 C1037.60,1072.75 1038.60,1072.83 1039.60,1072.92 C1040.60,1073.00 1041.60,1073.09 1042.60,1073.17 C1043.60,1073.26 1044.60,1073.34 1045.60,1073.43 C1046.60,1073.52 1047.60,1073.60 1048.60,1073.69 C1049.60,1073.77 1050.60,1073.86 1051.60,1073.94 C1052.60,1074.03 1053.60,1074.11 1054.60,1074.20 C1055.60,1074.28 1056.60,1074.37 1057.60,1074.46 C1058.60,1074.54 1059.60,1074.63 1060.60,1074.71 C1061.60,1074.80 1062.60,1074.89 1063.60,1074.97 C1064.60,1075.06 1065.60,1075.15 1066.60,1075.24 C1067.60,1075.33 1068.60,1075.42 1069.60,1075.51 C1070.60,1075.60 1071.60,1075.70 1072.60,1075.79 C1073.60,1075.89 1074.60,1075.99 1075.60,1076.09 C1076.60,1076.18 1077.60,1076.29 1078.60,1076.39 C1079.60,1076.49 1080.60,1076.59 1081.60,1076.69 C1082.60,1076.79 1083.60,1076.90 1084.60,1077.00 C1085.60,1077.10 1086.60,1077.20 1087.60,1077.31 C1088.60,1077.41 1089.60,1077.51 1090.60,1077.61 C1091.60,1077.72 1092.60,1077.82 1093.60,1077.92 C1094.60,1078.02 1095.60,1078.13 1096.60,1078.23 C1097.60,1078.33 1098.60,1078.44 1099.60,1078.54 C1100.60,1078.64 1101.60,1078.74 1102.60,1078.85 C1103.60,1078.95 1104.60,1079.05 1105.60,1079.15 C1106.60,1079.25 1107.60,1079.36 1108.60,1079.46 C1109.60,1079.56 1110.60,1079.66 1111.60,1079.75 C1112.60,1079.85 1113.60,1079.95 1114.60,1080.04 C1115.60,1080.13 1116.60,1080.22 1117.60,1080.30 C1118.60,1080.38 1119.60,1080.46 1120.60,1080.53 C1121.60,1080.61 1122.60,1080.67 1123.60,1080.74 C1124.60,1080.81 1125.60,1080.87 1126.60,1080.93 C1127.60,1080.99 1128.60,1081.05 1129.60,1081.10 C1130.60,1081.16 1131.60,1081.22 1132.60,1081.27 C1133.60,1081.33 1134.60,1081.39 1135.60,1081.44 C1136.60,1081.50 1137.60,1081.55 1138.60,1081.61 C1139.60,1081.66 1140.60,1081.72 1141.60,1081.78 C1142.60,1081.83 1143.60,1081.89 1144.60,1081.94 C1145.60,1082.00 1146.60,1082.05 1147.60,1082.11 C1148.60,1082.16 1149.60,1082.22 1150.60,1082.28 C1151.60,1082.33 1152.60,1082.39 1153.60,1082.44 C1154.60,1082.49 1155.60,1082.55 1156.60,1082.60 C1157.60,1082.65 1158.60,1082.71 1159.60,1082.76 C1160.60,1082.81 1161.60,1082.86 1162.60,1082.91 C1163.60,1082.96 1164.60,1083.01 1165.60,1083.05 C1166.60,1083.10 1167.60,1083.15 1168.60,1083.19 C1169.60,1083.24 1170.60,1083.29 1171.60,1083.33 C1172.60,1083.38 1173.60,1083.43 1174.60,1083.47 C1175.60,1083.52 1176.60,1083.57 1177.60,1083.61 C1178.60,1083.66 1179.60,1083.70 1180.60,1083.75 C1181.60,1083.80 1182.60,1083.84 1183.60,1083.89 C1184.60,1083.93 1185.60,1083.98 1186.60,1084.03 C1187.60,1084.07 1188.60,1084.12 1189.60,1084.17 C1190.60,1084.21 1191.60,1084.26 1192.60,1084.30 C1193.60,1084.35 1194.60,1084.40 1195.60,1084.44 C1196.60,1084.49 1197.60,1084.53 1198.60,1084.58 C1199.60,1084.63 1200.60,1084.68 1201.60,1084.72 C1202.60,1084.77 1203.60,1084.82 1204.60,1084.87 C1205.60,1084.92 1206.60,1084.96 1207.60,1085.01 C1208.60,1085.06 1209.60,1085.12 1210.60,1085.17 C1211.60,1085.22 1212.60,1085.27 1213.60,1085.33 C1214.60,1085.38 1215.60,1085.43 1216.60,1085.49 C1217.60,1085.54 1218.60,1085.59 1219.60,1085.65 C1220.60,1085.70 1221.60,1085.76 1222.60,1085.81 C1223.60,1085.87 1224.60,1085.92 1225.60,1085.98 C1226.60,1086.03 1227.60,1086.08 1228.60,1086.14 C1229.60,1086.19 1230.60,1086.25 1231.60,1086.30 C1232.60,1086.36 1233.60,1086.41 1234.60,1086.47 C1235.60,1086.52 1236.60,1086.58 1237.60,1086.63 C1238.60,1086.68 1239.60,1086.74 1240.60,1086.79 C1241.60,1086.85 1242.60,1086.90 1243.60,1086.96 C1244.60,1087.01 1245.60,1087.07 1246.60,1087.12 C1247.60,1087.18 1248.60,1087.23 1249.60,1087.29 C1250.60,1087.34 1251.60,1087.40 1252.60,1087.46 C1253.60,1087.51 1254.60,1087.57 1255.60,1087.63 C1256.60,1087.68 1257.60,1087.74 1258.60,1087.80 C1259.60,1087.86 1260.60,1087.92 1261.60,1087.98 C1262.60,1088.04 1263.60,1088.10 1264.60,1088.16 C1265.60,1088.22 1266.60,1088.28 1267.60,1088.34 C1268.60,1088.40 1269.60,1088.47 1270.60,1088.53 C1271.60,1088.59 1272.60,1088.65 1273.60,1088.71 C1274.60,1088.77 1275.60,1088.83 1276.60,1088.89 C1277.60,1088.95 1278.60,1089.01 1279.60,1089.07 C1280.60,1089.14 1281.60,1089.20 1282.60,1089.26 C1283.60,1089.32 1284.60,1089.38 1285.60,1089.44 C1286.60,1089.50 1287.60,1089.56 1288.60,1089.62 C1289.60,1089.68 1290.60,1089.74 1291.60,1089.80 C1292.60,1089.87 1293.60,1089.93 1294.60,1089.99 C1295.60,1090.05 1296.60,1090.11 1297.60,1090.17 C1298.60,1090.22 1299.60,1090.28 1300.60,1090.34 C1301.60,1090.40 1302.60,1090.46 1303.60,1090.51 C1304.60,1090.57 1305.60,1090.62 1306.60,1090.68 C1307.60,1090.73 1308.60,1090.79 1309.60,1090.84 C1310.60,1090.89 1311.60,1090.95 1312.60,1091.00 C1313.60,1091.05 1314.60,1091.10 1315.60,1091.16 C1316.60,1091.21 1317.60,1091.26 1318.60,1091.31 C1319.60,1091.36 1320.60,1091.42 1321.60,1091.47 C1322.60,1091.52 1323.60,1091.57 1324.60,1091.63 C1325.60,1091.68 1326.60,1091.73 1327.60,1091.78 C1328.60,1091.83 1329.60,1091.89 1330.60,1091.94 C1331.60,1091.99 1332.60,1092.04 1333.60,1092.09 C1334.60,1092.15 1335.60,1092.20 1336.60,1092.25 C1337.60,1092.30 1338.60,1092.35 1339.60,1092.41 C1340.60,1092.46 1341.60,1092.51 1342.60,1092.56 C1343.60,1092.61 1344.60,1092.67 1345.60,1092.72 C1346.60,1092.77 1347.60,1092.82 1348.60,1092.87 C1349.60,1092.92 1350.60,1092.98 1351.60,1093.03 C1352.60,1093.08 1353.60,1093.13 1354.60,1093.18 C1355.60,1093.23 1356.60,1093.28 1357.60,1093.33 C1358.60,1093.38 1359.60,1093.43 1360.60,1093.48 C1361.60,1093.53 1362.60,1093.58 1363.60,1093.63 C1364.60,1093.68 1365.60,1093.73 1366.60,1093.78 C1367.60,1093.84 1368.60,1093.89 1369.60,1093.94 C1370.60,1093.99 1371.60,1094.04 1372.60,1094.09 C1373.60,1094.14 1374.60,1094.19 1375.60,1094.24 C1376.60,1094.29 1377.60,1094.34 1378.60,1094.39 C1379.60,1094.44 1380.60,1094.49 1381.60,1094.54 C1382.60,1094.59 1383.60,1094.64 1384.60,1094.69 C1385.60,1094.74 1386.60,1094.79 1387.60,1094.84 C1388.60,1094.89 1389.60,1094.95 1390.60,1095.00 C1391.60,1095.05 1392.60,1095.10 1393.60,1095.16 C1394.60,1095.21 1395.60,1095.27 1396.60,1095.32 C1397.60,1095.38 1398.60,1095.44 1399.60,1095.50 C1400.60,1095.56 1401.60,1095.63 1402.60,1095.69 C1403.60,1095.76 1404.60,1095.83 1405.60,1095.89 C1406.60,1095.96 1407.60,1096.03 1408.60,1096.10 C1409.60,1096.17 1410.60,1096.24 1411.60,1096.31 C1412.60,1096.39 1413.60,1096.46 1414.60,1096.53 C1415.60,1096.61 1416.60,1096.68 1417.60,1096.76 C1418.60,1096.84 1419.60,1096.92 1420.60,1097.00 C1421.60,1097.08 1422.60,1097.17 1423.60,1097.25 C1424.60,1097.34 1425.60,1097.43 1426.60,1097.52 C1427.60,1097.61 1428.60,1097.70 1429.60,1097.79 C1430.60,1097.88 1431.60,1097.97 1432.60,1098.06 C1433.60,1098.15 1434.60,1098.24 1435.60,1098.34 C1436.60,1098.43 1437.60,1098.52 1438.60,1098.61 C1439.60,1098.70 1440.60,1098.80 1441.60,1098.89 C1442.60,1098.98 1443.60,1099.07 1444.60,1099.16 C1445.60,1099.26 1446.60,1099.35 1447.60,1099.44 C1448.60,1099.53 1449.60,1099.62 1450.60,1099.72 C1451.60,1099.81 1452.60,1099.90 1453.60,1099.99 C1454.60,1100.08 1455.60,1100.18 1456.60,1100.27 C1457.60,1100.36 1458.60,1100.45 1459.60,1100.54 C1460.60,1100.62 1461.60,1100.71 1462.60,1100.79 C1463.60,1100.88 1464.60,1100.96 1465.60,1101.04 C1466.60,1101.11 1467.60,1101.19 1468.60,1101.26 C1469.60,1101.32 1470.60,1101.39 1471.60,1101.45 C1472.60,1101.51 1473.60,1101.57 1474.60,1101.62 C1475.60,1101.68 1476.60,1101.73 1477.60,1101.79 C1478.60,1101.84 1479.60,1101.89 1480.60,1101.94 C1481.60,1101.99 1482.60,1102.04 1483.60,1102.09 C1484.60,1102.14 1485.60,1102.19 1486.60,1102.24 C1487.60,1102.29 1488.60,1102.34 1489.60,1102.39 C1490.60,1102.44 1491.60,1102.49 1492.60,1102.54 C1493.60,1102.59 1494.60,1102.64 1495.60,1102.69 C1496.60,1102.74 1497.60,1102.79 1498.60,1102.84 C1499.60,1102.89 1500.60,1102.94 1501.60,1102.99 C1502.60,1103.04 1503.60,1103.09 1504.60,1103.14 C1505.60,1103.19 1506.60,1103.24 1507.60,1103.29 C1508.60,1103.34 1509.60,1103.39 1510.60,1103.44 C1511.60,1103.49 1512.60,1103.54 1513.60,1103.59 C1514.60,1103.64 1515.60,1103.69 1516.60,1103.74 C1517.60,1103.79 1518.60,1103.83 1519.60,1103.88 C1520.60,1103.93 1521.60,1103.98 1522.60,1104.03 C1523.60,1104.07 1524.60,1104.12 1525.60,1104.17 C1526.60,1104.22 1527.60,1104.26 1528.60,1104.31 C1529.60,1104.36 1530.60,1104.41 1531.60,1104.45 C1532.60,1104.50 1533.60,1104.55 1534.60,1104.60 C1535.60,1104.64 1536.60,1104.69 1537.60,1104.74 C1538.60,1104.79 1539.60,1104.83 1540.60,1104.88 C1541.60,1104.93 1542.60,1104.98 1543.60,1105.02 C1544.60,1105.07 1545.60,1105.12 1546.60,1105.16 C1547.60,1105.21 1548.60,1105.26 1549.60,1105.30 C1550.60,1105.35 1551.60,1105.39 1552.60,1105.44 C1553.60,1105.48 1554.60,1105.52 1555.60,1105.56 C1556.60,1105.60 1557.60,1105.64 1558.60,1105.67 C1559.60,1105.70 1560.60,1105.73 1561.60,1105.76 C1562.60,1105.79 1563.60,1105.81 1564.60,1105.83 C1565.60,1105.85 1566.60,1105.87 1567.60,1105.88 C1568.60,1105.90 1569.60,1105.92 1570.60,1105.93 C1571.60,1105.94 1572.60,1105.96 1573.60,1105.97 C1574.60,1105.98 1575.60,1106.00 1576.60,1106.01 C1577.60,1106.02 1578.60,1106.03 1579.60,1106.05 C1580.60,1106.06 1581.60,1106.07 1582.60,1106.08 C1583.60,1106.10 1584.60,1106.11 1585.60,1106.12 C1586.60,1106.13 1587.60,1106.15 1588.60,1106.16 C1589.60,1106.17 1590.60,1106.18 1591.60,1106.20 C1592.60,1106.21 1593.60,1106.22 1594.60,1106.23 C1595.60,1106.25 1596.60,1106.26 1597.60,1106.27 C1598.60,1106.28 1599.60,1106.30 1600.60,1106.31 C1601.60,1106.32 1602.60,1106.33 1603.60,1106.35 C1604.60,1106.36 1605.60,1106.37 1606.60,1106.38 C1607.60,1106.40 1608.60,1106.41 1609.60,1106.42 C1610.60,1106.43 1611.60,1106.45 1612.60,1106.46 C1613.60,1106.47 1614.60,1106.48 1615.60,1106.50 C1616.60,1106.51 1617.60,1106.52 1618.60,1106.53 C1619.60,1106.54 1620.60,1106.55 1621.60,1106.56 C1622.60,1106.57 1623.60,1106.58 1624.60,1106.59 C1625.60,1106.60 1626.60,1106.61 1627.60,1106.62 C1628.60,1106.63 1629.60,1106.63 1630.60,1106.64 C1631.60,1106.65 1632.60,1106.66 1633.60,1106.66 C1634.60,1106.67 1635.60,1106.68 1636.60,1106.68 C1637.60,1106.69 1638.60,1106.70 1639.60,1106.70 C1640.60,1106.71 1641.60,1106.71 1642.60,1106.72 C1643.60,1106.73 1644.60,1106.73 1645.60,1106.74 C1646.60,1106.75 1647.60,1106.75 1648.60,1106.76 C1649.60,1106.77 1650.60,1106.77 1651.60,1106.78 C1652.60,1106.79 1653.60,1106.79 1654.60,1106.80 C1655.60,1106.80 1656.60,1106.81 1657.60,1106.82 C1658.60,1106.82 1659.60,1106.83 1660.60,1106.84 C1661.60,1106.84 1662.60,1106.85 1663.60,1106.86 C1664.60,1106.86 1665.60,1106.87 1666.60,1106.88 C1667.60,1106.88 1668.60,1106.89 1669.60,1106.89 C1670.60,1106.90 1671.60,1106.91 1672.60,1106.91 C1673.60,1106.92 1674.60,1106.93 1675.60,1106.93 C1676.60,1106.94 1677.60,1106.94 1678.60,1106.95 C1679.60,1106.95 1680.60,1106.96 1681.60,1106.96 C1682.60,1106.97 1683.60,1106.97 1684.60,1106.98"/>
</g>
<g font-weight="bold" font-size="59" text-anchor="middle">
<text x="290.0" y="1195.5">400</text><text x="569.0" y="1195.5">500</text><text x="849.1" y="1195.5">600</text><text x="1127.2" y="1195.5">700</text><text x="1407.7" y="1195.5">800</text><text x="1687.2" y="1195.5">900</text>
</g>
<text transform="translate(945.8,1308.4) scale(1,1.04)" font-weight="bold" font-size="69.7" text-anchor="middle">Wavelength (nm)</text>
<text transform="translate(78,584.1) rotate(-90) scale(1,1.04)" font-weight="bold" font-size="69.5" text-anchor="middle">PL Intensity (a.u.)</text>
<g stroke-width="15" stroke-linecap="round">
<line x1="807.8" y1="284.5" x2="948.8" y2="284.5" stroke="#000"/>
<line x1="807.8" y1="363.3" x2="948.8" y2="363.3" stroke="#f00"/>
<line x1="807.8" y1="441.2" x2="948.8" y2="441.2" stroke="#00f"/>
</g>
<g font-size="64.5">
<text transform="translate(965.3,306.4) scale(1,1.03)">ZnO</text>
<text transform="translate(965.3,385.2) scale(1,1.03)">Ag-ZnO</text>
<text transform="translate(965.3,462.8) scale(1,1.03)">CuO-Ag-ZnO</text>
</g>
</g>
</svg>
</body></html>
